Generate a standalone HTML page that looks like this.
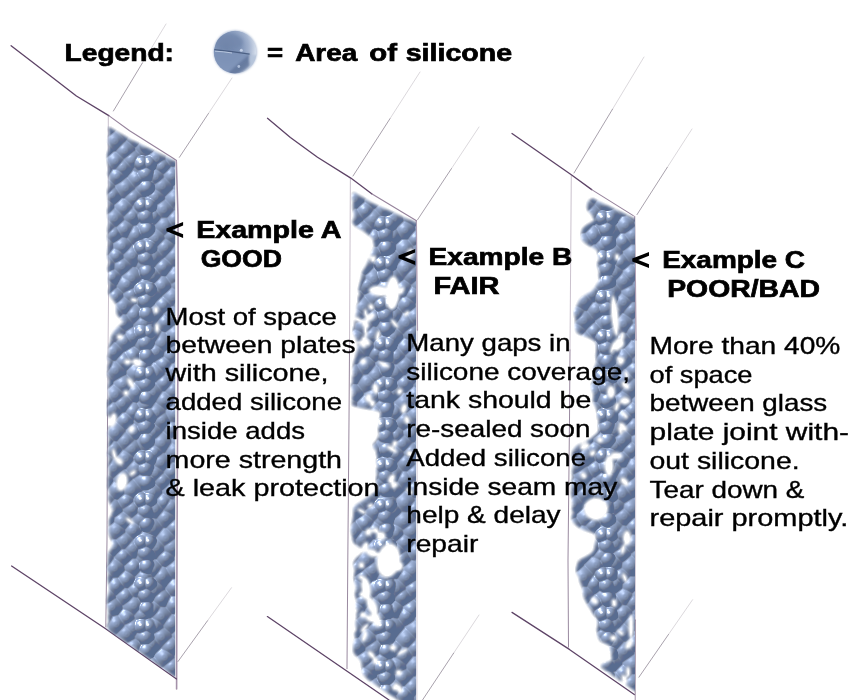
<!DOCTYPE html>
<html lang="en"><head><meta charset="utf-8"><title>Silicone seam examples</title>
<style>
html,body{margin:0;padding:0;background:#fff;}
body{width:864px;height:700px;overflow:hidden;font-family:"Liberation Sans",sans-serif;}
svg{display:block}
text{font-family:"Liberation Sans",sans-serif;fill:#000}
.b{font-weight:bold;stroke:#000;stroke-width:0.7px}
.r{stroke:#000;stroke-width:0.35px}
</style></head><body>
<svg width="864" height="700" viewBox="0 0 864 700">
<defs>
<radialGradient id="g" cx="0.5" cy="0.5" r="0.5" fx="0.40" fy="0.36">
<stop offset="0" stop-color="#a9bad6"/><stop offset="0.28" stop-color="#879cbe"/><stop offset="0.6" stop-color="#6c81a6"/><stop offset="0.88" stop-color="#54688b"/><stop offset="1" stop-color="#52668a" stop-opacity="0"/>
</radialGradient>
<radialGradient id="gb" cx="0.5" cy="0.5" r="0.5" fx="0.40" fy="0.30">
<stop offset="0" stop-color="#f6f9fd"/><stop offset="0.14" stop-color="#c6d3e7"/><stop offset="0.45" stop-color="#98abca"/><stop offset="0.8" stop-color="#7086ab"/><stop offset="1" stop-color="#586c8f"/>
</radialGradient>
<radialGradient id="gc" cx="0.5" cy="0.5" r="0.5" fx="0.40" fy="0.32">
<stop offset="0" stop-color="#b9c8df"/><stop offset="0.4" stop-color="#8fa3c4"/><stop offset="0.8" stop-color="#6b81a6"/><stop offset="1" stop-color="#566a8d"/>
</radialGradient>
<radialGradient id="gl" gradientUnits="userSpaceOnUse" cx="228" cy="48" r="30" fx="226" fy="46">
<stop offset="0" stop-color="#7085aa"/><stop offset="0.45" stop-color="#7c91b5"/><stop offset="0.72" stop-color="#a2b2ce"/><stop offset="1" stop-color="#e2e9f3"/>
</radialGradient>
<clipPath id="ballc"><circle cx="235.2" cy="52" r="21.4"/></clipPath>
<filter id="bb" x="-20%" y="-20%" width="140%" height="140%"><feGaussianBlur stdDeviation="1.1"/></filter>
<radialGradient id="h" cx="0.5" cy="0.5" r="0.5">
<stop offset="0" stop-color="#b0b0b0"/><stop offset="0.25" stop-color="#a0a0a0"/><stop offset="0.7" stop-color="#4a4a4a"/><stop offset="1" stop-color="#000"/>
</radialGradient>
<radialGradient id="hb" cx="0.5" cy="0.5" r="0.5">
<stop offset="0" stop-color="#fff"/><stop offset="0.3" stop-color="#f4f4f4"/><stop offset="0.6" stop-color="#d0d0d0"/><stop offset="0.85" stop-color="#a0a0a0"/><stop offset="1" stop-color="#6a6a6a"/>
</radialGradient>
<circle id="k1" r="11" fill="url(#h)" style="mix-blend-mode:lighten"/>
<circle id="k2" r="12" fill="url(#h)" style="mix-blend-mode:lighten"/>
<circle id="k3" r="13" fill="url(#h)" style="mix-blend-mode:lighten"/>
<circle id="kb" r="7.6" fill="url(#hb)" style="mix-blend-mode:lighten"/>
<circle id="kc" r="8.2" fill="url(#hb)" style="mix-blend-mode:lighten"/>
<circle id="kd" r="7.6" fill="url(#hb)" style="mix-blend-mode:lighten"/>
<filter id="lit" x="0" y="0" width="1" height="1" color-interpolation-filters="sRGB">
<feColorMatrix in="SourceGraphic" type="matrix" values="0 0 0 0 0  0 0 0 0 0  0 0 0 0 0  1 0 0 0 0" result="hm"/>
<feGaussianBlur in="hm" stdDeviation="0.7" result="hb"/>
<feDiffuseLighting in="hb" surfaceScale="3.5" diffuseConstant="1.16" lighting-color="#8b9dbf" result="dif"><feDistantLight azimuth="230" elevation="52"/></feDiffuseLighting>
<feSpecularLighting in="hb" surfaceScale="2.7" specularConstant="0.5" specularExponent="95" lighting-color="#ffffff" result="spec"><feDistantLight azimuth="235" elevation="36"/></feSpecularLighting>
<feFlood flood-color="#586c90" result="amb"/><feBlend in="dif" in2="amb" mode="lighten" result="dif2"/>
<feComposite in="dif2" in2="spec" operator="arithmetic" k1="0" k2="1" k3="1" k4="0"/>
</filter>
<filter id="soft" x="-10%" y="-5%" width="120%" height="110%"><feGaussianBlur stdDeviation="2.2"/></filter>
<filter id="s1" x="-5%" y="-5%" width="110%" height="110%"><feGaussianBlur stdDeviation="0.55"/></filter>
<circle id="c1" r="7.2" fill="url(#g)" style="mix-blend-mode:lighten"/>
<circle id="c2" r="8.0" fill="url(#g)" style="mix-blend-mode:lighten"/>
<circle id="c3" r="8.8" fill="url(#g)" style="mix-blend-mode:lighten"/>
<circle id="cb" r="6.6" fill="url(#gb)"/>
<circle id="cc" r="7" fill="url(#gc)"/>
<circle id="cd" r="6.4" fill="url(#gc)"/>

<clipPath id="cpA"><polygon points="90.2,0 175.2,0 175.2,677.6 90.2,618.0"/></clipPath>
<clipPath id="cpB"><polygon points="331.1,0 416.1,0 416.1,718.1 331.1,659.8"/></clipPath>
<clipPath id="cpC"><polygon points="550.0,0 635.0,0 635.0,694.6 550.0,636.4"/></clipPath>
<filter id="mb" x="-5%" y="-2%" width="110%" height="104%"><feGaussianBlur stdDeviation="1.15"/></filter>
<mask id="mA" maskUnits="userSpaceOnUse" x="85.19999999999999" y="100" width="110" height="600">
<g filter="url(#mb)"><rect x="85.19999999999999" y="100" width="110" height="600" fill="#000"/>
<path d="M181.2 110 L108.0 110.0 Q108.0 110.0 108.3 112.0 Q108.6 114.0 108.8 116.0 Q108.9 118.0 108.8 120.0 Q108.7 122.0 108.6 124.0 Q108.4 126.0 108.9 128.0 Q109.4 130.0 109.7 132.0 Q110.0 134.0 109.4 136.0 Q108.9 138.0 108.7 140.0 Q108.5 142.0 109.0 144.0 Q109.6 146.0 109.6 148.0 Q109.6 150.0 108.6 152.0 Q107.6 154.0 107.7 156.0 Q107.7 158.0 107.9 160.0 Q108.0 162.0 108.4 164.0 Q108.7 166.0 109.1 168.0 Q109.5 170.0 108.8 172.0 Q108.1 174.0 109.1 176.0 Q110.0 178.0 109.5 180.0 Q109.0 182.0 109.5 184.0 Q110.0 186.0 108.9 188.0 Q107.8 190.0 108.1 192.0 Q108.3 194.0 108.5 196.0 Q108.7 198.0 108.7 200.0 Q108.7 202.0 109.1 204.0 Q109.5 206.0 108.7 208.0 Q107.9 210.0 108.2 212.0 Q108.5 214.0 108.5 216.0 Q108.5 218.0 109.0 220.0 Q109.6 222.0 109.1 224.0 Q108.6 226.0 108.4 228.0 Q108.1 230.0 108.5 232.0 Q108.9 234.0 108.3 236.0 Q107.8 238.0 108.6 240.0 Q109.4 242.0 109.1 244.0 Q108.8 246.0 108.7 248.0 Q108.5 250.0 108.4 252.0 Q108.2 254.0 108.2 256.0 Q108.1 258.0 109.1 260.0 Q110.1 262.0 109.4 264.0 Q108.6 266.0 108.4 268.0 Q108.3 270.0 109.1 272.0 Q110.0 274.0 109.5 276.0 Q108.9 278.0 109.0 280.0 Q109.1 282.0 109.7 284.0 Q110.2 286.0 109.8 288.0 Q109.3 290.0 109.2 292.0 Q109.1 294.0 110.8 296.0 Q112.4 298.0 114.0 300.0 Q115.6 302.0 116.5 304.0 Q117.4 306.0 117.1 308.0 Q116.8 310.0 116.9 312.0 Q117.0 314.0 119.1 316.0 Q121.3 318.0 122.9 320.0 Q124.4 322.0 122.3 324.0 Q120.1 326.0 118.0 328.0 Q115.9 330.0 114.6 332.0 Q113.3 334.0 112.2 336.0 Q111.1 338.0 111.4 340.0 Q111.7 342.0 110.6 344.0 Q109.5 346.0 109.6 348.0 Q109.7 350.0 109.4 352.0 Q109.1 354.0 108.5 356.0 Q107.9 358.0 108.9 360.0 Q109.9 362.0 109.1 364.0 Q108.2 366.0 108.6 368.0 Q108.9 370.0 108.3 372.0 Q107.7 374.0 108.4 376.0 Q109.2 378.0 109.5 380.0 Q109.8 382.0 109.4 384.0 Q108.9 386.0 108.9 388.0 Q108.8 390.0 109.1 392.0 Q109.4 394.0 109.3 396.0 Q109.2 398.0 108.5 400.0 Q107.9 402.0 108.1 404.0 Q108.3 406.0 108.1 408.0 Q107.9 410.0 107.9 412.0 Q107.8 414.0 108.8 416.0 Q109.8 418.0 109.7 420.0 Q109.6 422.0 109.7 424.0 Q109.9 426.0 109.5 428.0 Q109.2 430.0 108.7 432.0 Q108.1 434.0 108.9 436.0 Q109.6 438.0 109.4 440.0 Q109.2 442.0 109.2 444.0 Q109.2 446.0 109.2 448.0 Q109.2 450.0 108.5 452.0 Q107.8 454.0 108.7 456.0 Q109.6 458.0 109.3 460.0 Q109.1 462.0 109.1 464.0 Q109.0 466.0 109.1 468.0 Q109.3 470.0 109.6 472.0 Q110.0 474.0 109.0 476.0 Q108.0 478.0 108.4 480.0 Q108.7 482.0 108.5 484.0 Q108.2 486.0 108.7 488.0 Q109.2 490.0 109.6 492.0 Q110.0 494.0 109.2 496.0 Q108.3 498.0 109.3 500.0 Q110.3 502.0 111.0 504.0 Q111.8 506.0 112.9 508.0 Q113.9 510.0 113.3 512.0 Q112.7 514.0 111.5 516.0 Q110.3 518.0 109.9 520.0 Q109.6 522.0 109.8 524.0 Q110.0 526.0 109.6 528.0 Q109.1 530.0 109.4 532.0 Q109.7 534.0 110.4 536.0 Q111.0 538.0 112.3 540.0 Q113.6 542.0 113.7 544.0 Q113.8 546.0 112.4 548.0 Q111.1 550.0 109.8 552.0 Q108.5 554.0 108.7 556.0 Q109.0 558.0 108.9 560.0 Q108.9 562.0 108.6 564.0 Q108.2 566.0 108.0 568.0 Q107.8 570.0 108.7 572.0 Q109.6 574.0 108.8 576.0 Q108.1 578.0 108.6 580.0 Q109.2 582.0 109.5 584.0 Q109.9 586.0 109.9 588.0 Q109.9 590.0 109.6 592.0 Q109.2 594.0 108.4 596.0 Q107.5 598.0 107.6 600.0 Q107.7 602.0 107.8 604.0 Q107.8 606.0 108.5 608.0 Q109.2 610.0 109.1 612.0 Q109.1 614.0 109.0 616.0 Q108.9 618.0 109.3 620.0 Q109.7 622.0 108.7 624.0 Q107.7 626.0 108.5 628.0 Q109.3 630.0 108.6 632.0 Q107.9 634.0 108.8 636.0 Q109.8 638.0 108.8 640.0 Q107.9 642.0 108.3 644.0 Q108.7 646.0 108.7 648.0 Q108.7 650.0 109.1 652.0 Q109.5 654.0 109.1 656.0 Q108.6 658.0 108.4 660.0 Q108.1 662.0 108.9 664.0 Q109.6 666.0 109.5 668.0 Q109.4 670.0 109.0 672.0 Q108.6 674.0 109.0 676.0 Q109.4 678.0 109.2 680.0 Q109.1 682.0 108.4 684.0 Q107.7 686.0 108.4 688.0 L109.0 690.0 L181.2 690 Z" fill="#fff"/>
<ellipse cx="122" cy="482" rx="6.4" ry="9.9" transform="rotate(11 122 482)" fill="#000"/>
<ellipse cx="137" cy="362.5" rx="5.9" ry="4.5" transform="rotate(29 137 362.5)" fill="#000"/>
<ellipse cx="127.5" cy="362" rx="3.9" ry="3.4" transform="rotate(0 127.5 362)" fill="#000"/>
<ellipse cx="126" cy="393" rx="3.4" ry="3.4" transform="rotate(0 126 393)" fill="#000"/>
<ellipse cx="156" cy="310" rx="3.1" ry="4.1" transform="rotate(0 156 310)" fill="#000"/>
<ellipse cx="157" cy="328" rx="3.1" ry="5.4" transform="rotate(0 157 328)" fill="#000"/>
<ellipse cx="134" cy="300" rx="4.1" ry="2.9" transform="rotate(11 134 300)" fill="#000"/>
<ellipse cx="120" cy="337" rx="3.9" ry="3.4" transform="rotate(0 120 337)" fill="#000"/>
<ellipse cx="113" cy="420" rx="4.4" ry="7.9" transform="rotate(11 113 420)" fill="#000"/>
<ellipse cx="130.8" cy="383.1" rx="3.5" ry="6.2" transform="rotate(-31 130.8 383.1)" fill="#000"/>
<ellipse cx="131.6" cy="429.3" rx="3.6" ry="4.3" transform="rotate(25 131.6 429.3)" fill="#000"/>
<ellipse cx="132.8" cy="473.0" rx="2.7" ry="4.1" transform="rotate(55 132.8 473.0)" fill="#000"/>
<ellipse cx="119.0" cy="461.0" rx="3.8" ry="5.3" transform="rotate(-48 119.0 461.0)" fill="#000"/>
<ellipse cx="129.8" cy="520.9" rx="2.8" ry="5.4" transform="rotate(-52 129.8 520.9)" fill="#000"/>
<ellipse cx="114.3" cy="454.5" rx="2.8" ry="6.3" transform="rotate(-13 114.3 454.5)" fill="#000"/>
<polygon points="97.7,119.6 103.3,123.6 108.8,127.6 114.3,130.8 119.9,134.1 125.4,137.3 130.9,140.4 136.5,143.1 142.0,145.8 147.5,148.5 153.1,151.2 158.6,153.9 164.1,156.6 169.7,159.3 175.2,162.1 180.7,165.9 186.3,169.7 185.2,90 85.19999999999999,90" fill="#000"/>
<polygon points="85.19999999999999,613.7 135.2,648.3 185.2,683.7 185.2,710 85.19999999999999,710" fill="#000"/>
</g></mask>
<mask id="mB" maskUnits="userSpaceOnUse" x="326.1" y="160" width="110" height="554">
<g filter="url(#mb)"><rect x="326.1" y="160" width="110" height="554" fill="#000"/>
<path d="M422.1 170 L354.8 170.0 Q354.8 170.0 354.3 172.0 Q353.7 174.0 353.9 176.0 Q354.2 178.0 354.5 180.0 Q354.9 182.0 354.4 184.0 Q353.9 186.0 354.8 188.0 Q355.6 190.0 354.5 192.0 Q353.4 194.0 353.1 196.0 Q352.8 198.0 353.4 200.0 Q353.9 202.0 353.6 204.0 Q353.4 206.0 353.6 208.0 Q353.8 210.0 354.4 212.0 Q354.9 214.0 354.8 216.0 Q354.7 218.0 353.7 220.0 Q352.7 222.0 354.2 224.0 Q355.7 226.0 359.6 228.0 Q363.5 230.0 366.0 232.0 Q368.4 234.0 371.1 236.0 Q373.8 238.0 374.0 240.0 Q374.1 242.0 374.7 244.0 Q375.3 246.0 374.5 248.0 Q373.7 250.0 373.0 252.0 Q372.4 254.0 371.1 256.0 Q369.9 258.0 369.2 260.0 Q368.5 262.0 367.6 264.0 Q366.7 266.0 365.4 268.0 Q364.0 270.0 363.2 272.0 Q362.4 274.0 362.2 276.0 Q361.9 278.0 361.4 280.0 Q360.9 282.0 360.5 284.0 Q360.1 286.0 359.5 288.0 Q359.0 290.0 359.7 292.0 Q360.5 294.0 359.5 296.0 Q358.5 298.0 358.9 300.0 Q359.4 302.0 358.5 304.0 Q357.5 306.0 357.5 308.0 Q357.6 310.0 357.4 312.0 Q357.2 314.0 356.2 316.0 Q355.3 318.0 355.3 320.0 Q355.3 322.0 355.4 324.0 Q355.5 326.0 354.4 328.0 Q353.4 330.0 354.0 332.0 Q354.5 334.0 355.6 336.0 Q356.7 338.0 357.3 340.0 Q358.0 342.0 358.4 344.0 Q358.8 346.0 358.6 348.0 Q358.4 350.0 357.4 352.0 Q356.3 354.0 356.2 356.0 Q356.0 358.0 355.3 360.0 Q354.5 362.0 354.1 364.0 Q353.7 366.0 353.7 368.0 Q353.8 370.0 354.0 372.0 Q354.2 374.0 353.5 376.0 Q352.9 378.0 353.2 380.0 Q353.5 382.0 352.5 384.0 Q351.5 386.0 352.5 388.0 Q353.4 390.0 353.4 392.0 Q353.4 394.0 353.2 396.0 Q353.0 398.0 352.8 400.0 Q352.6 402.0 352.7 404.0 Q352.8 406.0 366.5 408.0 Q380.2 410.0 380.9 412.0 Q381.6 414.0 381.1 416.0 Q380.5 418.0 380.5 420.0 Q380.4 422.0 380.1 424.0 Q379.9 426.0 379.2 428.0 Q378.6 430.0 379.4 432.0 Q380.2 434.0 379.4 436.0 Q378.7 438.0 377.6 440.0 Q376.4 442.0 374.6 444.0 Q372.9 446.0 374.8 448.0 Q376.8 450.0 377.0 452.0 Q377.2 454.0 377.8 456.0 Q378.3 458.0 377.6 460.0 Q377.0 462.0 377.9 464.0 Q378.7 466.0 377.7 468.0 Q376.7 470.0 377.2 472.0 Q377.6 474.0 377.4 476.0 Q377.1 478.0 377.0 480.0 Q376.8 482.0 377.4 484.0 Q377.9 486.0 378.4 488.0 Q378.9 490.0 376.5 492.0 Q374.2 494.0 370.6 496.0 Q367.0 498.0 364.7 500.0 Q362.4 502.0 358.7 504.0 Q355.0 506.0 354.4 508.0 Q353.9 510.0 354.1 512.0 Q354.3 514.0 353.9 516.0 Q353.5 518.0 353.3 520.0 Q353.1 522.0 352.6 524.0 Q352.0 526.0 351.8 528.0 Q351.5 530.0 351.9 532.0 Q352.4 534.0 352.8 536.0 Q353.2 538.0 353.4 540.0 Q353.6 542.0 356.1 544.0 Q358.6 546.0 362.3 548.0 Q366.1 550.0 364.4 552.0 Q362.7 554.0 360.1 556.0 Q357.4 558.0 355.8 560.0 Q354.2 562.0 354.3 564.0 Q354.3 566.0 355.0 568.0 Q355.7 570.0 355.4 572.0 Q355.0 574.0 354.8 576.0 Q354.6 578.0 354.9 580.0 Q355.1 582.0 356.0 584.0 Q356.8 586.0 356.8 588.0 Q356.8 590.0 356.0 592.0 Q355.3 594.0 356.0 596.0 Q356.8 598.0 357.2 600.0 Q357.6 602.0 356.9 604.0 Q356.1 606.0 357.3 608.0 Q358.5 610.0 357.8 612.0 Q357.1 614.0 357.4 616.0 Q357.8 618.0 357.0 620.0 Q356.2 622.0 356.3 624.0 Q356.4 626.0 357.0 628.0 Q357.7 630.0 356.2 632.0 Q354.8 634.0 355.6 636.0 Q356.5 638.0 355.6 640.0 Q354.7 642.0 354.4 644.0 Q354.1 646.0 353.9 648.0 Q353.6 650.0 354.2 652.0 Q354.7 654.0 357.5 656.0 Q360.2 658.0 361.1 660.0 Q361.9 662.0 362.2 664.0 Q362.5 666.0 362.8 668.0 Q363.1 670.0 363.3 672.0 Q363.6 674.0 365.6 676.0 Q367.5 678.0 369.3 680.0 Q371.0 682.0 374.8 684.0 Q378.7 686.0 381.5 688.0 Q384.2 690.0 386.8 692.0 Q389.3 694.0 393.1 696.0 Q396.9 698.0 398.7 700.0 L400.6 702.0 L422.1 704 Z" fill="#fff"/>
<ellipse cx="392.5" cy="293" rx="7.9" ry="17.4" transform="rotate(3 392.5 293)" fill="#000"/>
<ellipse cx="379" cy="291" rx="10.9" ry="5.9" transform="rotate(6 379 291)" fill="#000"/>
<ellipse cx="394.5" cy="323.5" rx="5.9" ry="2.7" transform="rotate(52 394.5 323.5)" fill="#000"/>
<ellipse cx="384" cy="364.5" rx="6.4" ry="2.7" transform="rotate(26 384 364.5)" fill="#000"/>
<ellipse cx="388.5" cy="560.5" rx="12.4" ry="17.9" transform="rotate(9 388.5 560.5)" fill="#000"/>
<ellipse cx="381" cy="536" rx="5.4" ry="4.9" transform="rotate(0 381 536)" fill="#000"/>
<ellipse cx="372" cy="553" rx="6.9" ry="4.4" transform="rotate(17 372 553)" fill="#000"/>
<ellipse cx="398" cy="566" rx="5.9" ry="5.9" transform="rotate(0 398 566)" fill="#000"/>
<ellipse cx="366" cy="588" rx="5.4" ry="11.9" transform="rotate(-9 366 588)" fill="#000"/>
<ellipse cx="372" cy="606" rx="5.4" ry="10.9" transform="rotate(-23 372 606)" fill="#000"/>
<ellipse cx="376" cy="619" rx="5.1" ry="8.9" transform="rotate(-20 376 619)" fill="#000"/>
<ellipse cx="375.5" cy="661" rx="3.5" ry="4.1" transform="rotate(0 375.5 661)" fill="#000"/>
<ellipse cx="398.8" cy="672.8" rx="3.7" ry="3.7" transform="rotate(0 398.8 672.8)" fill="#000"/>
<ellipse cx="371.4" cy="654.8" rx="3.3" ry="5.2" transform="rotate(-43 371.4 654.8)" fill="#000"/>
<ellipse cx="362.0" cy="593.7" rx="3.0" ry="3.7" transform="rotate(43 362.0 593.7)" fill="#000"/>
<ellipse cx="365.0" cy="547.4" rx="4.1" ry="6.3" transform="rotate(21 365.0 547.4)" fill="#000"/>
<ellipse cx="361.8" cy="511.2" rx="2.5" ry="5.0" transform="rotate(-61 361.8 511.2)" fill="#000"/>
<ellipse cx="365.7" cy="313.4" rx="2.5" ry="4.8" transform="rotate(-8 365.7 313.4)" fill="#000"/>
<ellipse cx="374.4" cy="616.7" rx="3.5" ry="4.9" transform="rotate(22 374.4 616.7)" fill="#000"/>
<ellipse cx="399.1" cy="688.9" rx="3.8" ry="5.5" transform="rotate(-25 399.1 688.9)" fill="#000"/>
<ellipse cx="365.6" cy="331.8" rx="2.6" ry="5.7" transform="rotate(-14 365.6 331.8)" fill="#000"/>
<ellipse cx="370.7" cy="618.7" rx="4.0" ry="5.9" transform="rotate(-69 370.7 618.7)" fill="#000"/>
<ellipse cx="394.8" cy="443.5" rx="3.1" ry="3.6" transform="rotate(18 394.8 443.5)" fill="#000"/>
<ellipse cx="366.3" cy="587.0" rx="2.6" ry="4.4" transform="rotate(64 366.3 587.0)" fill="#000"/>
<ellipse cx="361.7" cy="577.5" rx="2.9" ry="3.7" transform="rotate(-61 361.7 577.5)" fill="#000"/>
<ellipse cx="364.3" cy="595.6" rx="3.4" ry="4.7" transform="rotate(-43 364.3 595.6)" fill="#000"/>
<ellipse cx="361.4" cy="565.3" rx="3.5" ry="3.7" transform="rotate(-11 361.4 565.3)" fill="#000"/>
<ellipse cx="365.4" cy="324.0" rx="4.1" ry="5.8" transform="rotate(-27 365.4 324.0)" fill="#000"/>
<ellipse cx="364.6" cy="636.5" rx="3.1" ry="6.0" transform="rotate(20 364.6 636.5)" fill="#000"/>
<ellipse cx="365.0" cy="324.2" rx="3.7" ry="4.4" transform="rotate(-28 365.0 324.2)" fill="#000"/>
<ellipse cx="373.2" cy="259.1" rx="3.4" ry="4.1" transform="rotate(14 373.2 259.1)" fill="#000"/>
<ellipse cx="368.4" cy="397.8" rx="4.0" ry="4.9" transform="rotate(10 368.4 397.8)" fill="#000"/>
<ellipse cx="364.6" cy="627.9" rx="2.7" ry="6.1" transform="rotate(44 364.6 627.9)" fill="#000"/>
<ellipse cx="365.8" cy="341.0" rx="3.7" ry="6.2" transform="rotate(-42 365.8 341.0)" fill="#000"/>
<ellipse cx="370.3" cy="505.6" rx="2.7" ry="3.5" transform="rotate(64 370.3 505.6)" fill="#000"/>
<ellipse cx="377.8" cy="335.9" rx="2.9" ry="5.9" transform="rotate(13 377.8 335.9)" fill="#000"/>
<ellipse cx="363.3" cy="361.4" rx="3.7" ry="3.6" transform="rotate(-37 363.3 361.4)" fill="#000"/>
<ellipse cx="394.3" cy="485.1" rx="3.5" ry="4.2" transform="rotate(57 394.3 485.1)" fill="#000"/>
<ellipse cx="358.6" cy="319.9" rx="2.9" ry="4.7" transform="rotate(-60 358.6 319.9)" fill="#000"/>
<ellipse cx="371.1" cy="307.0" rx="3.4" ry="3.8" transform="rotate(-19 371.1 307.0)" fill="#000"/>
<ellipse cx="375.6" cy="530.5" rx="3.4" ry="3.8" transform="rotate(-64 375.6 530.5)" fill="#000"/>
<ellipse cx="391.9" cy="449.2" rx="3.0" ry="6.4" transform="rotate(-58 391.9 449.2)" fill="#000"/>
<ellipse cx="391.5" cy="478.9" rx="3.9" ry="5.6" transform="rotate(28 391.5 478.9)" fill="#000"/>
<ellipse cx="375.4" cy="388.6" rx="3.9" ry="6.0" transform="rotate(-11 375.4 388.6)" fill="#000"/>
<ellipse cx="372.3" cy="402.8" rx="3.5" ry="3.6" transform="rotate(19 372.3 402.8)" fill="#000"/>
<ellipse cx="395.5" cy="686.9" rx="3.7" ry="4.6" transform="rotate(32 395.5 686.9)" fill="#000"/>
<ellipse cx="362.9" cy="614.8" rx="3.7" ry="3.5" transform="rotate(14 362.9 614.8)" fill="#000"/>
<ellipse cx="362.3" cy="344.0" rx="3.0" ry="5.4" transform="rotate(-41 362.3 344.0)" fill="#000"/>
<ellipse cx="368.5" cy="531.9" rx="3.9" ry="4.4" transform="rotate(23 368.5 531.9)" fill="#000"/>
<ellipse cx="370.1" cy="317.3" rx="3.8" ry="6.1" transform="rotate(52 370.1 317.3)" fill="#000"/>
<ellipse cx="372.4" cy="403.8" rx="3.0" ry="3.8" transform="rotate(-0 372.4 403.8)" fill="#000"/>
<ellipse cx="409.7" cy="453.6" rx="3.6" ry="3.8" transform="rotate(-67 409.7 453.6)" fill="#000"/>
<ellipse cx="404.0" cy="408.6" rx="3.8" ry="5.5" transform="rotate(14 404.0 408.6)" fill="#000"/>
<ellipse cx="409.5" cy="491.2" rx="2.7" ry="4.7" transform="rotate(-46 409.5 491.2)" fill="#000"/>
<ellipse cx="392.9" cy="647.7" rx="3.8" ry="3.6" transform="rotate(26 392.9 647.7)" fill="#000"/>
<ellipse cx="399.7" cy="391.6" rx="3.8" ry="3.5" transform="rotate(-60 399.7 391.6)" fill="#000"/>
<ellipse cx="402.5" cy="651.8" rx="2.6" ry="6.4" transform="rotate(61 402.5 651.8)" fill="#000"/>
<ellipse cx="401.9" cy="290.6" rx="2.7" ry="4.3" transform="rotate(17 401.9 290.6)" fill="#000"/>
<ellipse cx="406.7" cy="313.6" rx="2.6" ry="3.9" transform="rotate(43 406.7 313.6)" fill="#000"/>
<ellipse cx="407.0" cy="420.2" rx="3.5" ry="4.8" transform="rotate(-16 407.0 420.2)" fill="#000"/>
<ellipse cx="409.6" cy="253.7" rx="4.0" ry="6.3" transform="rotate(22 409.6 253.7)" fill="#000"/>
<polygon points="339.9,183.0 345.4,187.0 350.8,191.1 356.2,194.3 361.7,197.6 367.1,200.8 372.6,203.9 378.0,206.4 383.5,208.8 388.9,211.3 394.3,213.7 399.8,216.2 405.2,218.7 410.7,221.1 416.1,223.6 421.5,226.8 427.0,230.1 426.1,150 326.1,150" fill="#000"/>
<polygon points="326.1,649.9 376.1,684.2 426.1,718.4 426.1,724 326.1,724" fill="#000"/>
</g></mask>
<mask id="mC" maskUnits="userSpaceOnUse" x="545.0" y="175" width="110" height="539">
<g filter="url(#mb)"><rect x="545.0" y="175" width="110" height="539" fill="#000"/>
<path d="M641.0 185 L599.8 185.0 Q599.8 185.0 600.1 187.0 Q600.4 189.0 599.7 191.0 Q599.1 193.0 597.6 195.0 Q596.1 197.0 592.4 199.0 Q588.8 201.0 588.2 203.0 Q587.6 205.0 587.5 207.0 Q587.4 209.0 589.4 211.0 Q591.5 213.0 592.6 215.0 Q593.7 217.0 594.7 219.0 Q595.8 221.0 591.7 223.0 Q587.7 225.0 585.3 227.0 Q582.9 229.0 582.5 231.0 Q582.1 233.0 581.9 235.0 Q581.7 237.0 582.5 239.0 Q583.4 241.0 586.2 243.0 Q589.0 245.0 593.3 247.0 Q597.6 249.0 597.9 251.0 Q598.2 253.0 599.1 255.0 Q599.9 257.0 599.6 259.0 Q599.2 261.0 598.3 263.0 Q597.4 265.0 598.5 267.0 Q599.6 269.0 599.6 271.0 Q599.7 273.0 599.6 275.0 Q599.5 277.0 600.0 279.0 Q600.6 281.0 598.8 283.0 Q597.1 285.0 596.2 287.0 Q595.3 289.0 592.9 291.0 Q590.5 293.0 587.0 295.0 Q583.5 297.0 581.4 299.0 Q579.3 301.0 578.7 303.0 Q578.0 305.0 576.8 307.0 Q575.6 309.0 575.1 311.0 Q574.6 313.0 575.2 315.0 Q575.8 317.0 576.1 319.0 Q576.3 321.0 576.0 323.0 Q575.7 325.0 576.0 327.0 Q576.3 329.0 576.8 331.0 Q577.4 333.0 583.5 335.0 Q589.6 337.0 592.9 339.0 Q596.2 341.0 596.6 343.0 Q597.0 345.0 597.0 347.0 Q597.1 349.0 597.0 351.0 Q596.9 353.0 596.7 355.0 Q596.5 357.0 596.9 359.0 Q597.2 361.0 596.8 363.0 Q596.4 365.0 595.3 367.0 Q594.1 369.0 594.8 371.0 Q595.5 373.0 594.5 375.0 Q593.5 377.0 593.9 379.0 Q594.4 381.0 593.0 383.0 Q591.6 385.0 592.0 387.0 Q592.4 389.0 593.2 391.0 Q593.9 393.0 594.2 395.0 Q594.4 397.0 593.9 399.0 Q593.4 401.0 594.4 403.0 Q595.4 405.0 596.3 407.0 Q597.2 409.0 597.6 411.0 Q598.0 413.0 598.0 415.0 Q597.9 417.0 598.8 419.0 Q599.8 421.0 599.2 423.0 Q598.7 425.0 599.2 427.0 Q599.6 429.0 599.2 431.0 Q598.8 433.0 596.3 435.0 Q593.7 437.0 591.5 439.0 Q589.4 441.0 583.9 443.0 Q578.4 445.0 576.5 447.0 Q574.6 449.0 573.5 451.0 Q572.3 453.0 572.5 455.0 Q572.8 457.0 573.3 459.0 Q573.9 461.0 574.1 463.0 Q574.2 465.0 573.7 467.0 Q573.2 469.0 572.8 471.0 Q572.4 473.0 573.1 475.0 Q573.7 477.0 573.0 479.0 Q572.4 481.0 572.4 483.0 Q572.4 485.0 572.3 487.0 Q572.2 489.0 572.0 491.0 Q571.8 493.0 572.2 495.0 Q572.6 497.0 572.9 499.0 Q573.1 501.0 573.4 503.0 Q573.6 505.0 573.0 507.0 Q572.4 509.0 573.2 511.0 Q574.1 513.0 573.1 515.0 Q572.2 517.0 572.5 519.0 Q572.8 521.0 574.8 523.0 Q576.8 525.0 579.6 527.0 Q582.3 529.0 589.3 531.0 Q596.3 533.0 596.5 535.0 Q596.8 537.0 596.8 539.0 Q596.7 541.0 595.9 543.0 Q595.1 545.0 595.0 547.0 Q594.9 549.0 594.1 551.0 Q593.3 553.0 590.3 555.0 Q587.3 557.0 583.0 559.0 Q578.7 561.0 578.4 563.0 Q578.0 565.0 577.4 567.0 Q576.7 569.0 577.0 571.0 Q577.2 573.0 578.6 575.0 Q580.0 577.0 580.0 579.0 Q580.0 581.0 581.1 583.0 Q582.2 585.0 582.9 587.0 Q583.6 589.0 583.6 591.0 Q583.7 593.0 584.0 595.0 Q584.4 597.0 585.5 599.0 Q586.7 601.0 587.4 603.0 Q588.2 605.0 589.9 607.0 Q591.5 609.0 592.4 611.0 Q593.3 613.0 595.1 615.0 Q596.9 617.0 597.6 619.0 Q598.3 621.0 598.3 623.0 Q598.4 625.0 597.9 627.0 Q597.4 629.0 597.7 631.0 Q598.0 633.0 598.3 635.0 Q598.6 637.0 599.8 639.0 Q600.9 641.0 606.0 643.0 Q611.1 645.0 610.9 647.0 Q610.7 649.0 611.4 651.0 Q612.0 653.0 612.2 655.0 Q612.4 657.0 612.6 659.0 Q612.8 661.0 606.8 663.0 Q600.8 665.0 602.1 667.0 Q603.3 669.0 605.3 671.0 Q607.4 673.0 609.5 675.0 Q611.5 677.0 613.7 679.0 Q615.8 681.0 617.2 683.0 Q618.6 685.0 622.5 687.0 Q626.5 689.0 629.2 691.0 Q632.0 693.0 633.5 695.0 Q635.0 697.0 635.3 699.0 L635.5 701.0 L641.0 704 Z" fill="#fff"/>
<ellipse cx="614.8" cy="316" rx="4.5" ry="20.9" transform="rotate(-5 614.8 316)" fill="#000"/>
<ellipse cx="617" cy="257" rx="2.9" ry="3.9" transform="rotate(0 617 257)" fill="#000"/>
<ellipse cx="619" cy="343.5" rx="5.9" ry="6.4" transform="rotate(29 619 343.5)" fill="#000"/>
<ellipse cx="611" cy="392" rx="4.9" ry="6.9" transform="rotate(0 611 392)" fill="#000"/>
<ellipse cx="625" cy="401" rx="5.9" ry="4.4" transform="rotate(0 625 401)" fill="#000"/>
<ellipse cx="609" cy="466" rx="5.4" ry="10.9" transform="rotate(0 609 466)" fill="#000"/>
<ellipse cx="616" cy="456" rx="6.9" ry="4.4" transform="rotate(0 616 456)" fill="#000"/>
<ellipse cx="596" cy="509" rx="12.9" ry="11.9" transform="rotate(0 596 509)" fill="#000"/>
<ellipse cx="627" cy="538" rx="4.9" ry="7.9" transform="rotate(0 627 538)" fill="#000"/>
<ellipse cx="631" cy="627" rx="3.4" ry="12.9" transform="rotate(0 631 627)" fill="#000"/>
<ellipse cx="623.0" cy="426.9" rx="3.6" ry="5.9" transform="rotate(-43 623.0 426.9)" fill="#000"/>
<ellipse cx="624.5" cy="414.9" rx="2.7" ry="5.0" transform="rotate(-39 624.5 414.9)" fill="#000"/>
<ellipse cx="620.4" cy="632.4" rx="2.5" ry="4.2" transform="rotate(-49 620.4 632.4)" fill="#000"/>
<ellipse cx="629.1" cy="644.3" rx="3.8" ry="5.9" transform="rotate(34 629.1 644.3)" fill="#000"/>
<ellipse cx="628.2" cy="672.0" rx="2.9" ry="5.9" transform="rotate(-2 628.2 672.0)" fill="#000"/>
<ellipse cx="614.1" cy="603.0" rx="3.2" ry="4.5" transform="rotate(-10 614.1 603.0)" fill="#000"/>
<ellipse cx="584.8" cy="446.4" rx="3.8" ry="5.8" transform="rotate(67 584.8 446.4)" fill="#000"/>
<ellipse cx="594.4" cy="600.7" rx="3.6" ry="4.7" transform="rotate(-44 594.4 600.7)" fill="#000"/>
<ellipse cx="616.7" cy="406.9" rx="2.9" ry="4.8" transform="rotate(15 616.7 406.9)" fill="#000"/>
<ellipse cx="583.6" cy="475.5" rx="3.3" ry="4.1" transform="rotate(-36 583.6 475.5)" fill="#000"/>
<ellipse cx="620.9" cy="361.0" rx="4.0" ry="4.6" transform="rotate(30 620.9 361.0)" fill="#000"/>
<ellipse cx="625.5" cy="385.3" rx="3.8" ry="5.3" transform="rotate(-47 625.5 385.3)" fill="#000"/>
<ellipse cx="624.6" cy="481.8" rx="3.9" ry="5.8" transform="rotate(-41 624.6 481.8)" fill="#000"/>
<ellipse cx="613.2" cy="638.0" rx="3.6" ry="3.8" transform="rotate(65 613.2 638.0)" fill="#000"/>
<ellipse cx="623.0" cy="549.2" rx="2.8" ry="5.3" transform="rotate(11 623.0 549.2)" fill="#000"/>
<ellipse cx="600.0" cy="439.8" rx="3.6" ry="3.7" transform="rotate(-38 600.0 439.8)" fill="#000"/>
<ellipse cx="620.6" cy="359.5" rx="3.4" ry="5.0" transform="rotate(-63 620.6 359.5)" fill="#000"/>
<ellipse cx="595.3" cy="491.1" rx="2.6" ry="3.4" transform="rotate(68 595.3 491.1)" fill="#000"/>
<ellipse cx="620.2" cy="430.5" rx="2.6" ry="4.8" transform="rotate(-18 620.2 430.5)" fill="#000"/>
<ellipse cx="624.5" cy="679.3" rx="3.3" ry="5.4" transform="rotate(-28 624.5 679.3)" fill="#000"/>
<ellipse cx="615.9" cy="346.3" rx="4.0" ry="5.6" transform="rotate(-33 615.9 346.3)" fill="#000"/>
<ellipse cx="624.7" cy="577.8" rx="2.9" ry="5.2" transform="rotate(-20 624.7 577.8)" fill="#000"/>
<ellipse cx="612.3" cy="348.5" rx="2.6" ry="5.7" transform="rotate(14 612.3 348.5)" fill="#000"/>
<ellipse cx="622.0" cy="336.5" rx="2.8" ry="4.8" transform="rotate(8 622.0 336.5)" fill="#000"/>
<ellipse cx="592.6" cy="453.2" rx="3.2" ry="3.8" transform="rotate(50 592.6 453.2)" fill="#000"/>
<ellipse cx="626.5" cy="374.7" rx="2.8" ry="4.3" transform="rotate(-15 626.5 374.7)" fill="#000"/>
<polygon points="560.7,179.1 566.0,182.9 571.3,186.8 576.6,189.9 581.9,193.0 587.2,196.1 592.5,199.1 597.8,201.7 603.1,204.3 608.5,206.8 613.8,209.4 619.1,212.0 624.4,214.5 629.7,217.1 635.0,219.7 640.3,223.0 645.6,226.3 645.0,165 545.0,165" fill="#000"/>
<polygon points="545.0,628.7 595.0,662.2 645.0,697.1 645.0,724 545.0,724" fill="#000"/>
</g></mask>
</defs>
<rect width="864" height="700" fill="#fff"/>
<polyline points="11.1,45.7 46.3,72.8 76.4,96 108.8,115.6" fill="none" stroke="#5d4366" stroke-width="1.3" stroke-linejoin="round" stroke-linecap="round" opacity="1"/>
<polyline points="108.8,115.6 129.6,130.7 173.6,158.5 176.5,160.5" fill="none" stroke="#7a6382" stroke-width="1.1" stroke-linejoin="round" stroke-linecap="round" opacity="0.8"/>
<polyline points="166,24 142.3,63.1" fill="none" stroke="#8b8490" stroke-width="0.7" stroke-linejoin="round" stroke-linecap="round" opacity="0.45"/>
<polyline points="142.3,63.1 113.4,111" fill="none" stroke="#6d6273" stroke-width="0.8" stroke-linejoin="round" stroke-linecap="round" opacity="0.75"/>
<polyline points="232,78 208.3,113.7" fill="none" stroke="#8b8490" stroke-width="0.7" stroke-linejoin="round" stroke-linecap="round" opacity="0.45"/>
<polyline points="208.3,113.7 179.4,157.3" fill="none" stroke="#6d6273" stroke-width="0.8" stroke-linejoin="round" stroke-linecap="round" opacity="0.75"/>
<polyline points="108.3,116 108.5,300 107.6,400" fill="none" stroke="#7a6382" stroke-width="0.8" stroke-linejoin="round" stroke-linecap="round" opacity="0.5"/>
<polyline points="107.6,400 107,540 105.8,627" fill="none" stroke="#5d4366" stroke-width="0.9" stroke-linejoin="round" stroke-linecap="round" opacity="0.7"/>
<polyline points="176.3,161.5 178,215 178.2,300 177,540 176.6,689" fill="none" stroke="#8d7593" stroke-width="1.6" stroke-linejoin="round" stroke-linecap="round" opacity="0.8"/>
<polyline points="11.6,566 105.6,628.8 176.5,679" fill="none" stroke="#5d4366" stroke-width="1.25" stroke-linejoin="round" stroke-linecap="round" opacity="1"/>
<polyline points="231.5,587.7 207.4,620.9" fill="none" stroke="#8b8490" stroke-width="0.7" stroke-linejoin="round" stroke-linecap="round" opacity="0.45"/>
<polyline points="207.4,620.9 178,661.5" fill="none" stroke="#6d6273" stroke-width="0.8" stroke-linejoin="round" stroke-linecap="round" opacity="0.75"/>
<polyline points="267.5,118.3 290.4,137.5 317.5,157.3 350.8,178.1 371.7,193.75" fill="none" stroke="#5d4366" stroke-width="1.3" stroke-linejoin="round" stroke-linecap="round" opacity="1"/>
<polyline points="371.7,193.75 416.5,220.8" fill="none" stroke="#7a6382" stroke-width="1.1" stroke-linejoin="round" stroke-linecap="round" opacity="0.8"/>
<polyline points="420,72 389.9,118.8" fill="none" stroke="#8b8490" stroke-width="0.7" stroke-linejoin="round" stroke-linecap="round" opacity="0.45"/>
<polyline points="389.9,118.8 353,176" fill="none" stroke="#6d6273" stroke-width="0.8" stroke-linejoin="round" stroke-linecap="round" opacity="0.75"/>
<polyline points="479,127 451.3,168.8" fill="none" stroke="#8b8490" stroke-width="0.7" stroke-linejoin="round" stroke-linecap="round" opacity="0.45"/>
<polyline points="451.3,168.8 417.5,219.8" fill="none" stroke="#6d6273" stroke-width="0.8" stroke-linejoin="round" stroke-linecap="round" opacity="0.75"/>
<polyline points="350.4,178 349.5,350" fill="none" stroke="#7a6382" stroke-width="0.8" stroke-linejoin="round" stroke-linecap="round" opacity="0.5"/>
<polyline points="349.5,350 349,420 347.8,560 347,668.7" fill="none" stroke="#5d4366" stroke-width="0.9" stroke-linejoin="round" stroke-linecap="round" opacity="0.7"/>
<polyline points="416.3,221.5 417.4,330" fill="none" stroke="#8d7593" stroke-width="1.4" stroke-linejoin="round" stroke-linecap="round" opacity="0.7"/>
<polyline points="417.4,330 417,700" fill="none" stroke="#8d7593" stroke-width="1.0" stroke-linejoin="round" stroke-linecap="round" opacity="0.3"/>
<polyline points="267.4,616.6 389,700" fill="none" stroke="#5d4366" stroke-width="1.25" stroke-linejoin="round" stroke-linecap="round" opacity="1"/>
<polyline points="479,615 453.6,653.2" fill="none" stroke="#8b8490" stroke-width="0.7" stroke-linejoin="round" stroke-linecap="round" opacity="0.45"/>
<polyline points="453.6,653.2 422.5,700" fill="none" stroke="#6d6273" stroke-width="0.8" stroke-linejoin="round" stroke-linecap="round" opacity="0.75"/>
<polyline points="512,133.5 571.3,174.8 591.7,189.6" fill="none" stroke="#5d4366" stroke-width="1.3" stroke-linejoin="round" stroke-linecap="round" opacity="1"/>
<polyline points="591.7,189.6 633.3,215.6" fill="none" stroke="#7a6382" stroke-width="1.1" stroke-linejoin="round" stroke-linecap="round" opacity="0.8"/>
<polyline points="644,57 612.5,109.2" fill="none" stroke="#8b8490" stroke-width="0.7" stroke-linejoin="round" stroke-linecap="round" opacity="0.45"/>
<polyline points="612.5,109.2 574,173" fill="none" stroke="#6d6273" stroke-width="0.8" stroke-linejoin="round" stroke-linecap="round" opacity="0.75"/>
<polyline points="692,129 667.2,167.5" fill="none" stroke="#8b8490" stroke-width="0.7" stroke-linejoin="round" stroke-linecap="round" opacity="0.45"/>
<polyline points="667.2,167.5 637,214.6" fill="none" stroke="#6d6273" stroke-width="0.8" stroke-linejoin="round" stroke-linecap="round" opacity="0.75"/>
<polyline points="571.3,175 570,350" fill="none" stroke="#7a6382" stroke-width="0.8" stroke-linejoin="round" stroke-linecap="round" opacity="0.5"/>
<polyline points="570,350 569.5,420 568,560 568.5,647.1" fill="none" stroke="#5d4366" stroke-width="0.9" stroke-linejoin="round" stroke-linecap="round" opacity="0.7"/>
<polyline points="634.6,216.5 636,340" fill="none" stroke="#8d7593" stroke-width="1.4" stroke-linejoin="round" stroke-linecap="round" opacity="0.7"/>
<polyline points="636,340 635.4,620" fill="none" stroke="#8d7593" stroke-width="1.0" stroke-linejoin="round" stroke-linecap="round" opacity="0.35"/>
<polyline points="635.4,620 635.2,700" fill="none" stroke="#5d4366" stroke-width="1.0" stroke-linejoin="round" stroke-linecap="round" opacity="0.6"/>
<polyline points="512,612.4 569.4,649.4 634.3,694.6" fill="none" stroke="#5d4366" stroke-width="1.25" stroke-linejoin="round" stroke-linecap="round" opacity="1"/>
<polyline points="692.6,599.7 668.4,634.6" fill="none" stroke="#8b8490" stroke-width="0.7" stroke-linejoin="round" stroke-linecap="round" opacity="0.45"/>
<polyline points="668.4,634.6 638.9,677.2" fill="none" stroke="#6d6273" stroke-width="0.8" stroke-linejoin="round" stroke-linecap="round" opacity="0.75"/>
<g clip-path="url(#cpA)"><g mask="url(#mA)">
<g filter="url(#lit)"><g style="isolation:isolate">
<rect x="90.19999999999999" y="105" width="100" height="590" fill="#000"/>
<use href="#k3" x="144.1" y="480.4"/>
<use href="#k2" x="97.4" y="317.0"/>
<use href="#k1" x="106.5" y="441.9"/>
<use href="#k1" x="134.9" y="119.2"/>
<use href="#k3" x="126.8" y="634.2"/>
<use href="#k3" x="103.7" y="247.1"/>
<use href="#k1" x="185.4" y="326.5"/>
<use href="#k2" x="137.0" y="372.8"/>
<use href="#k2" x="155.5" y="197.2"/>
<use href="#k1" x="124.3" y="361.3"/>
<use href="#k3" x="173.2" y="315.3"/>
<use href="#k1" x="166.3" y="558.2"/>
<use href="#k2" x="122.6" y="479.0"/>
<use href="#k1" x="185.5" y="517.9"/>
<use href="#k2" x="132.4" y="216.4"/>
<use href="#k1" x="116.2" y="648.8"/>
<use href="#k1" x="107.0" y="518.4"/>
<use href="#k3" x="94.9" y="531.2"/>
<use href="#k3" x="141.9" y="518.9"/>
<use href="#k1" x="126.7" y="617.8"/>
<use href="#k3" x="114.8" y="218.2"/>
<use href="#k3" x="146.6" y="146.8"/>
<use href="#k1" x="131.9" y="294.9"/>
<use href="#k2" x="106.1" y="129.1"/>
<use href="#k3" x="103.0" y="168.2"/>
<use href="#k1" x="153.8" y="216.3"/>
<use href="#k1" x="94.3" y="606.3"/>
<use href="#k3" x="94.6" y="644.6"/>
<use href="#k1" x="146.4" y="463.1"/>
<use href="#k3" x="132.3" y="448.9"/>
<use href="#k2" x="123.2" y="107.8"/>
<use href="#k1" x="152.2" y="276.0"/>
<use href="#k2" x="165.8" y="518.4"/>
<use href="#k1" x="163.8" y="502.4"/>
<use href="#k3" x="161.3" y="616.5"/>
<use href="#k2" x="181.8" y="635.1"/>
<use href="#k2" x="103.3" y="538.9"/>
<use href="#k2" x="184.8" y="268.5"/>
<use href="#k1" x="125.5" y="596.5"/>
<use href="#k3" x="161.9" y="443.2"/>
<use href="#k3" x="182.3" y="108.2"/>
<use href="#k1" x="171.4" y="355.9"/>
<use href="#k3" x="182.3" y="481.3"/>
<use href="#k2" x="165.3" y="247.7"/>
<use href="#k3" x="142.7" y="167.4"/>
<use href="#k2" x="175.9" y="276.6"/>
<use href="#k3" x="106.8" y="264.2"/>
<use href="#k1" x="143.5" y="188.3"/>
<use href="#k1" x="123.6" y="655.2"/>
<use href="#k1" x="144.4" y="287.2"/>
<use href="#k2" x="134.2" y="647.4"/>
<use href="#k2" x="137.0" y="179.2"/>
<use href="#k1" x="96.2" y="468.6"/>
<use href="#k2" x="145.5" y="539.8"/>
<use href="#k1" x="136.3" y="590.2"/>
<use href="#k2" x="183.4" y="459.7"/>
<use href="#k2" x="97.8" y="684.7"/>
<use href="#k3" x="123.4" y="322.3"/>
<use href="#k1" x="105.7" y="207.4"/>
<use href="#k2" x="172.3" y="176.4"/>
<use href="#k1" x="143.1" y="365.1"/>
<use href="#k1" x="115.5" y="296.7"/>
<use href="#k1" x="136.8" y="683.0"/>
<use href="#k1" x="103.1" y="423.6"/>
<use href="#k1" x="133.3" y="355.9"/>
<use href="#k1" x="143.1" y="383.0"/>
<use href="#k3" x="153.1" y="257.0"/>
<use href="#k2" x="104.4" y="148.2"/>
<use href="#k1" x="162.0" y="166.5"/>
<use href="#k2" x="94.9" y="430.8"/>
<use href="#k2" x="173.3" y="141.5"/>
<use href="#k2" x="144.7" y="500.7"/>
<use href="#k3" x="180.7" y="284.0"/>
<use href="#k2" x="155.2" y="473.2"/>
<use href="#k2" x="155.1" y="626.0"/>
<use href="#k1" x="154.9" y="452.3"/>
<use href="#k1" x="94.1" y="371.2"/>
<use href="#k3" x="173.3" y="491.6"/>
<use href="#k2" x="164.9" y="400.6"/>
<use href="#k1" x="126.7" y="501.1"/>
<use href="#k1" x="126.5" y="579.9"/>
<use href="#k3" x="93.7" y="295.1"/>
<use href="#k1" x="152.9" y="609.6"/>
<use href="#k3" x="163.9" y="209.8"/>
<use href="#k2" x="103.9" y="617.9"/>
<use href="#k2" x="115.7" y="161.3"/>
<use href="#k3" x="152.6" y="392.5"/>
<use href="#k2" x="134.2" y="314.9"/>
<use href="#k2" x="175.7" y="335.0"/>
<use href="#k2" x="113.8" y="351.8"/>
<use href="#k1" x="146.2" y="302.7"/>
<use href="#k1" x="143.9" y="654.0"/>
<use href="#k3" x="142.9" y="676.8"/>
<use href="#k1" x="105.3" y="342.9"/>
<use href="#k2" x="183.5" y="558.3"/>
<use href="#k3" x="165.0" y="226.0"/>
<use href="#k1" x="171.2" y="120.1"/>
<use href="#k3" x="95.8" y="451.9"/>
<use href="#k1" x="117.3" y="176.4"/>
<use href="#k2" x="162.2" y="420.4"/>
<use href="#k3" x="152.0" y="293.4"/>
<use href="#k3" x="93.5" y="568.3"/>
<use href="#k3" x="133.1" y="548.7"/>
<use href="#k2" x="114.9" y="568.6"/>
<use href="#k3" x="172.3" y="547.5"/>
<use href="#k3" x="161.7" y="637.1"/>
<use href="#k1" x="94.9" y="492.4"/>
<use href="#k2" x="181.2" y="148.6"/>
<use href="#k1" x="133.8" y="667.9"/>
<use href="#k2" x="106.0" y="189.2"/>
<use href="#k2" x="143.5" y="343.2"/>
<use href="#k1" x="161.9" y="148.9"/>
<use href="#k1" x="123.9" y="556.4"/>
<use href="#k3" x="136.2" y="468.5"/>
<use href="#k3" x="146.2" y="442.2"/>
<use href="#k2" x="136.1" y="392.4"/>
<use href="#k2" x="122.6" y="246.3"/>
<use href="#k2" x="105.1" y="462.6"/>
<use href="#k3" x="97.9" y="414.7"/>
<use href="#k2" x="152.1" y="336.2"/>
<use href="#k3" x="182.7" y="363.7"/>
<use href="#k2" x="171.0" y="646.7"/>
<use href="#k3" x="115.1" y="141.2"/>
<use href="#k2" x="184.2" y="248.9"/>
<use href="#k1" x="154.6" y="120.2"/>
<use href="#k1" x="133.4" y="412.0"/>
<use href="#k2" x="104.1" y="480.6"/>
<use href="#k3" x="123.9" y="674.3"/>
<use href="#k2" x="133.0" y="336.6"/>
<use href="#k1" x="164.4" y="383.2"/>
<use href="#k3" x="115.6" y="370.9"/>
<use href="#k3" x="156.4" y="412.8"/>
<use href="#k3" x="94.3" y="158.2"/>
<use href="#k3" x="115.0" y="313.4"/>
<use href="#k1" x="151.8" y="666.8"/>
<use href="#k1" x="165.5" y="322.6"/>
<use href="#k2" x="152.4" y="492.7"/>
<use href="#k3" x="115.8" y="432.9"/>
<use href="#k3" x="123.5" y="306.4"/>
<use href="#k3" x="181.2" y="302.7"/>
<use href="#k1" x="116.4" y="586.3"/>
<use href="#k1" x="172.5" y="684.1"/>
<use href="#k3" x="102.8" y="676.8"/>
<use href="#k3" x="102.8" y="380.5"/>
<use href="#k2" x="132.6" y="508.9"/>
<use href="#k2" x="162.4" y="285.9"/>
<use href="#k3" x="155.1" y="685.7"/>
<use href="#k3" x="131.9" y="490.0"/>
<use href="#k2" x="125.0" y="130.1"/>
<use href="#k1" x="97.9" y="625.8"/>
<use href="#k1" x="116.3" y="256.1"/>
<use href="#k2" x="162.5" y="576.7"/>
<use href="#k3" x="143.6" y="421.9"/>
<use href="#k1" x="97.0" y="236.6"/>
<use href="#k2" x="182.3" y="419.6"/>
<use href="#k3" x="162.6" y="186.2"/>
<use href="#k2" x="125.1" y="151.0"/>
<use href="#k2" x="155.8" y="373.0"/>
<use href="#k2" x="145.0" y="577.6"/>
<use href="#k1" x="172.9" y="429.4"/>
<use href="#k1" x="104.5" y="560.1"/>
<use href="#k1" x="184.7" y="579.8"/>
<use href="#k3" x="175.1" y="451.7"/>
<use href="#k1" x="183.1" y="615.6"/>
<use href="#k2" x="124.4" y="341.5"/>
<use href="#k2" x="182.0" y="381.3"/>
<use href="#k2" x="164.9" y="657.8"/>
<use href="#k2" x="112.6" y="121.6"/>
<use href="#k2" x="114.2" y="449.2"/>
<use href="#k2" x="171.0" y="507.2"/>
<use href="#k1" x="95.1" y="257.0"/>
<use href="#k1" x="162.7" y="480.9"/>
<use href="#k1" x="175.9" y="587.7"/>
<use href="#k2" x="105.2" y="502.0"/>
<use href="#k3" x="125.7" y="441.5"/>
<use href="#k1" x="105.0" y="302.5"/>
<use href="#k1" x="153.3" y="569.5"/>
<use href="#k3" x="143.5" y="107.7"/>
<use href="#k3" x="125.5" y="458.7"/>
<use href="#k2" x="172.0" y="624.3"/>
<use href="#k3" x="184.5" y="653.6"/>
<use href="#k2" x="184.2" y="599.3"/>
<use href="#k1" x="161.5" y="598.9"/>
<use href="#k3" x="141.7" y="209.4"/>
<use href="#k1" x="161.6" y="129.9"/>
<use href="#k2" x="142.6" y="635.1"/>
<use href="#k3" x="131.9" y="278.2"/>
<use href="#k3" x="106.0" y="287.1"/>
<use href="#k3" x="124.6" y="541.1"/>
<use href="#k2" x="175.3" y="219.8"/>
<use href="#k1" x="95.1" y="277.7"/>
<use href="#k2" x="113.7" y="409.7"/>
<use href="#k3" x="161.1" y="462.5"/>
<use href="#k1" x="146.7" y="404.3"/>
<use href="#k3" x="93.0" y="665.3"/>
<use href="#k2" x="132.2" y="160.0"/>
<use href="#k3" x="166.0" y="538.5"/>
<use href="#k3" x="181.4" y="442.7"/>
<use href="#k2" x="117.4" y="490.0"/>
<use href="#k3" x="95.6" y="588.7"/>
<use href="#k3" x="104.8" y="400.2"/>
<use href="#k3" x="152.6" y="528.0"/>
<use href="#k3" x="175.5" y="199.2"/>
<use href="#k1" x="164.1" y="364.5"/>
<use href="#k2" x="133.5" y="530.7"/>
<use href="#k1" x="95.2" y="139.8"/>
<use href="#k2" x="116.7" y="624.5"/>
<use href="#k1" x="94.5" y="391.3"/>
<use href="#k2" x="122.5" y="403.8"/>
<use href="#k1" x="133.8" y="567.4"/>
<use href="#k1" x="143.5" y="129.7"/>
<use href="#k2" x="182.4" y="170.8"/>
<use href="#k1" x="103.4" y="635.9"/>
<use href="#k3" x="175.2" y="256.1"/>
<use href="#k1" x="182.2" y="131.1"/>
<use href="#k2" x="112.9" y="686.4"/>
<use href="#k1" x="104.2" y="322.5"/>
<use href="#k3" x="132.9" y="628.3"/>
<use href="#k2" x="93.2" y="548.8"/>
<use href="#k1" x="96.8" y="511.5"/>
<use href="#k3" x="162.1" y="343.1"/>
<use href="#k1" x="161.4" y="111.7"/>
<use href="#k3" x="156.3" y="158.6"/>
<use href="#k3" x="95.0" y="120.0"/>
<use href="#k3" x="117.0" y="332.5"/>
<use href="#k1" x="184.6" y="673.1"/>
<use href="#k1" x="173.9" y="158.5"/>
<use href="#k3" x="154.9" y="509.3"/>
<use href="#k2" x="151.6" y="644.0"/>
<use href="#k3" x="93.0" y="219.6"/>
<use href="#k1" x="105.9" y="365.1"/>
<use href="#k2" x="97.3" y="354.7"/>
<use href="#k2" x="103.3" y="577.6"/>
<use href="#k3" x="106.6" y="227.2"/>
<use href="#k2" x="105.5" y="657.3"/>
<use href="#k3" x="152.9" y="140.8"/>
<use href="#k2" x="122.2" y="266.5"/>
<use href="#k1" x="112.7" y="195.5"/>
<use href="#k3" x="115.2" y="394.8"/>
<use href="#k1" x="144.4" y="557.2"/>
<use href="#k3" x="156.4" y="547.5"/>
<use href="#k1" x="146.6" y="245.8"/>
<use href="#k1" x="93.6" y="179.1"/>
<use href="#k1" x="182.5" y="228.0"/>
<use href="#k2" x="112.4" y="607.4"/>
<use href="#k2" x="133.9" y="197.7"/>
<use href="#k2" x="124.8" y="229.1"/>
<use href="#k3" x="143.6" y="323.5"/>
<use href="#k1" x="180.9" y="204.9"/>
<use href="#k3" x="155.5" y="238.4"/>
<use href="#k3" x="113.8" y="468.4"/>
<use href="#k1" x="172.6" y="235.3"/>
<use href="#k3" x="173.0" y="297.4"/>
<use href="#k2" x="172.7" y="667.4"/>
<use href="#k2" x="173.7" y="391.1"/>
<use href="#k2" x="123.5" y="384.6"/>
<use href="#k3" x="133.9" y="605.8"/>
<use href="#k3" x="182.4" y="404.2"/>
<use href="#k2" x="146.1" y="228.0"/>
<use href="#k1" x="163.5" y="677.1"/>
<use href="#k2" x="114.0" y="667.0"/>
<use href="#k2" x="122.5" y="521.7"/>
<use href="#k1" x="114.2" y="234.3"/>
<use href="#k2" x="97.2" y="332.5"/>
<use href="#k1" x="112.9" y="277.0"/>
<use href="#k1" x="114.4" y="547.0"/>
<use href="#k1" x="174.5" y="605.2"/>
<use href="#k1" x="175.2" y="528.1"/>
<use href="#k3" x="95.1" y="195.7"/>
<use href="#k2" x="154.5" y="313.2"/>
<use href="#k3" x="125.7" y="188.1"/>
<use href="#k2" x="174.0" y="371.8"/>
<use href="#k2" x="155.8" y="177.1"/>
<use href="#k2" x="124.1" y="208.2"/>
<use href="#k3" x="116.9" y="530.9"/>
<use href="#k1" x="145.4" y="264.3"/>
<use href="#k1" x="152.9" y="432.4"/>
<use href="#k3" x="153.4" y="590.0"/>
<use href="#k2" x="135.9" y="137.1"/>
<use href="#k2" x="123.4" y="167.9"/>
<use href="#k2" x="113.0" y="508.9"/>
<use href="#k2" x="156.4" y="351.7"/>
<use href="#k1" x="163.5" y="267.3"/>
<use href="#k3" x="181.0" y="497.9"/>
<use href="#k1" x="163.8" y="305.3"/>
<use href="#k2" x="143.2" y="614.5"/>
<use href="#k2" x="183.1" y="188.5"/>
<use href="#k1" x="172.1" y="472.1"/>
<use href="#k2" x="175.5" y="569.5"/>
<use href="#k1" x="125.5" y="420.7"/>
<use href="#k1" x="134.9" y="431.9"/>
<use href="#k2" x="185.8" y="343.5"/>
<use href="#k3" x="132.5" y="255.7"/>
<use href="#k3" x="175.2" y="414.2"/>
<use href="#k2" x="103.0" y="107.9"/>
<use href="#k2" x="126.8" y="284.7"/>
<use href="#k2" x="105.9" y="597.6"/>
<use href="#k2" x="136.0" y="235.2"/>
<use href="#k1" x="145.7" y="596.1"/>
<use href="#k1" x="183.5" y="540.1"/>
<use href="#kd" x="147.0" y="145.5"/>
<use href="#kc" x="146.0" y="132.0"/>
<use href="#kb" x="141.8" y="121.5"/>
<use href="#kb" x="149.2" y="121.5"/>
<use href="#kd" x="147.0" y="187.6"/>
<use href="#kc" x="146.0" y="174.1"/>
<use href="#kb" x="141.8" y="163.6"/>
<use href="#kb" x="149.2" y="163.6"/>
<use href="#kd" x="147.0" y="229.7"/>
<use href="#kc" x="146.0" y="216.2"/>
<use href="#kb" x="141.8" y="205.7"/>
<use href="#kb" x="149.2" y="205.7"/>
<use href="#kd" x="147.0" y="271.8"/>
<use href="#kc" x="146.0" y="258.3"/>
<use href="#kb" x="141.8" y="247.8"/>
<use href="#kb" x="149.2" y="247.8"/>
<use href="#kd" x="147.0" y="313.9"/>
<use href="#kc" x="146.0" y="300.4"/>
<use href="#kb" x="141.8" y="289.9"/>
<use href="#kb" x="149.2" y="289.9"/>
<use href="#kd" x="147.0" y="356.0"/>
<use href="#kc" x="146.0" y="342.5"/>
<use href="#kb" x="141.8" y="332.0"/>
<use href="#kb" x="149.2" y="332.0"/>
<use href="#kd" x="147.0" y="398.1"/>
<use href="#kc" x="146.0" y="384.6"/>
<use href="#kb" x="141.8" y="374.1"/>
<use href="#kb" x="149.2" y="374.1"/>
<use href="#kd" x="147.0" y="440.2"/>
<use href="#kc" x="146.0" y="426.7"/>
<use href="#kb" x="141.8" y="416.2"/>
<use href="#kb" x="149.2" y="416.2"/>
<use href="#kd" x="147.0" y="482.3"/>
<use href="#kc" x="146.0" y="468.8"/>
<use href="#kb" x="141.8" y="458.3"/>
<use href="#kb" x="149.2" y="458.3"/>
<use href="#kd" x="147.0" y="524.4"/>
<use href="#kc" x="146.0" y="510.9"/>
<use href="#kb" x="141.8" y="500.4"/>
<use href="#kb" x="149.2" y="500.4"/>
<use href="#kd" x="147.0" y="566.5"/>
<use href="#kc" x="146.0" y="553.0"/>
<use href="#kb" x="141.8" y="542.5"/>
<use href="#kb" x="149.2" y="542.5"/>
<use href="#kd" x="147.0" y="608.6"/>
<use href="#kc" x="146.0" y="595.1"/>
<use href="#kb" x="141.8" y="584.6"/>
<use href="#kb" x="149.2" y="584.6"/>
<use href="#kd" x="147.0" y="650.7"/>
<use href="#kc" x="146.0" y="637.2"/>
<use href="#kb" x="141.8" y="626.7"/>
<use href="#kb" x="149.2" y="626.7"/>
</g></g>
<g fill="#fff" filter="url(#s1)">
<circle cx="143.8" cy="129.4" r="1.1" opacity="0.5"/>
<circle cx="140.2" cy="119.3" r="1.5" opacity="0.95"/>
<circle cx="147.6" cy="119.3" r="1.5" opacity="0.95"/>
<circle cx="143.8" cy="171.5" r="1.1" opacity="0.5"/>
<circle cx="140.2" cy="161.4" r="1.5" opacity="0.95"/>
<circle cx="147.6" cy="161.4" r="1.5" opacity="0.95"/>
<circle cx="143.8" cy="213.6" r="1.1" opacity="0.5"/>
<circle cx="140.2" cy="203.5" r="1.5" opacity="0.95"/>
<circle cx="147.6" cy="203.5" r="1.5" opacity="0.95"/>
<circle cx="143.8" cy="255.7" r="1.1" opacity="0.5"/>
<circle cx="140.2" cy="245.6" r="1.5" opacity="0.95"/>
<circle cx="147.6" cy="245.6" r="1.5" opacity="0.95"/>
<circle cx="143.8" cy="297.8" r="1.1" opacity="0.5"/>
<circle cx="140.2" cy="287.7" r="1.5" opacity="0.95"/>
<circle cx="147.6" cy="287.7" r="1.5" opacity="0.95"/>
<circle cx="143.8" cy="339.9" r="1.1" opacity="0.5"/>
<circle cx="140.2" cy="329.8" r="1.5" opacity="0.95"/>
<circle cx="147.6" cy="329.8" r="1.5" opacity="0.95"/>
<circle cx="143.8" cy="382.0" r="1.1" opacity="0.5"/>
<circle cx="140.2" cy="371.9" r="1.5" opacity="0.95"/>
<circle cx="147.6" cy="371.9" r="1.5" opacity="0.95"/>
<circle cx="143.8" cy="424.1" r="1.1" opacity="0.5"/>
<circle cx="140.2" cy="414.0" r="1.5" opacity="0.95"/>
<circle cx="147.6" cy="414.0" r="1.5" opacity="0.95"/>
<circle cx="143.8" cy="466.2" r="1.1" opacity="0.5"/>
<circle cx="140.2" cy="456.1" r="1.5" opacity="0.95"/>
<circle cx="147.6" cy="456.1" r="1.5" opacity="0.95"/>
<circle cx="143.8" cy="508.3" r="1.1" opacity="0.5"/>
<circle cx="140.2" cy="498.2" r="1.5" opacity="0.95"/>
<circle cx="147.6" cy="498.2" r="1.5" opacity="0.95"/>
<circle cx="143.8" cy="550.4" r="1.1" opacity="0.5"/>
<circle cx="140.2" cy="540.3" r="1.5" opacity="0.95"/>
<circle cx="147.6" cy="540.3" r="1.5" opacity="0.95"/>
<circle cx="143.8" cy="592.5" r="1.1" opacity="0.5"/>
<circle cx="140.2" cy="582.4" r="1.5" opacity="0.95"/>
<circle cx="147.6" cy="582.4" r="1.5" opacity="0.95"/>
<circle cx="143.8" cy="634.6" r="1.1" opacity="0.5"/>
<circle cx="140.2" cy="624.5" r="1.5" opacity="0.95"/>
<circle cx="147.6" cy="624.5" r="1.5" opacity="0.95"/>
</g>
</g></g>
<g clip-path="url(#cpB)"><g mask="url(#mB)">
<g filter="url(#lit)"><g style="isolation:isolate">
<rect x="331.1" y="165" width="100" height="544" fill="#000"/>
<use href="#k3" x="384.5" y="287.4"/>
<use href="#k2" x="338.9" y="455.1"/>
<use href="#k2" x="394.1" y="474.1"/>
<use href="#k3" x="358.0" y="279.8"/>
<use href="#k1" x="402.0" y="206.6"/>
<use href="#k3" x="346.6" y="228.9"/>
<use href="#k1" x="337.9" y="667.0"/>
<use href="#k2" x="354.6" y="414.8"/>
<use href="#k2" x="364.3" y="189.7"/>
<use href="#k2" x="413.7" y="257.4"/>
<use href="#k2" x="416.9" y="552.2"/>
<use href="#k1" x="385.8" y="463.6"/>
<use href="#k2" x="335.6" y="489.9"/>
<use href="#k3" x="383.6" y="304.1"/>
<use href="#k2" x="357.3" y="646.4"/>
<use href="#k3" x="424.6" y="695.7"/>
<use href="#k2" x="357.0" y="315.6"/>
<use href="#k3" x="423.4" y="540.4"/>
<use href="#k3" x="384.8" y="540.1"/>
<use href="#k1" x="394.0" y="197.1"/>
<use href="#k1" x="345.5" y="423.4"/>
<use href="#k1" x="424.3" y="676.2"/>
<use href="#k1" x="363.6" y="601.4"/>
<use href="#k3" x="411.9" y="531.3"/>
<use href="#k1" x="406.9" y="304.5"/>
<use href="#k1" x="367.7" y="422.6"/>
<use href="#k1" x="405.1" y="383.7"/>
<use href="#k3" x="405.1" y="403.5"/>
<use href="#k2" x="376.1" y="413.5"/>
<use href="#k3" x="345.9" y="461.4"/>
<use href="#k1" x="345.0" y="304.4"/>
<use href="#k2" x="336.4" y="434.0"/>
<use href="#k1" x="364.0" y="577.1"/>
<use href="#k1" x="406.2" y="347.8"/>
<use href="#k1" x="395.3" y="650.2"/>
<use href="#k2" x="348.2" y="169.8"/>
<use href="#k2" x="405.3" y="248.8"/>
<use href="#k2" x="353.9" y="218.1"/>
<use href="#k3" x="385.2" y="445.2"/>
<use href="#k1" x="425.9" y="326.6"/>
<use href="#k3" x="374.0" y="279.4"/>
<use href="#k2" x="415.1" y="473.7"/>
<use href="#k2" x="424.0" y="639.4"/>
<use href="#k1" x="373.9" y="255.7"/>
<use href="#k1" x="346.9" y="366.3"/>
<use href="#k3" x="425.6" y="499.8"/>
<use href="#k3" x="338.0" y="375.4"/>
<use href="#k2" x="356.9" y="337.4"/>
<use href="#k2" x="337.8" y="316.8"/>
<use href="#k2" x="422.3" y="383.2"/>
<use href="#k2" x="366.6" y="619.1"/>
<use href="#k3" x="374.1" y="451.3"/>
<use href="#k2" x="374.2" y="396.3"/>
<use href="#k3" x="426.1" y="304.2"/>
<use href="#k1" x="385.2" y="424.3"/>
<use href="#k3" x="356.6" y="255.8"/>
<use href="#k3" x="363.3" y="326.3"/>
<use href="#k3" x="405.1" y="366.0"/>
<use href="#k2" x="426.0" y="518.4"/>
<use href="#k1" x="353.9" y="552.7"/>
<use href="#k2" x="396.9" y="356.5"/>
<use href="#k2" x="338.7" y="626.5"/>
<use href="#k2" x="355.6" y="431.7"/>
<use href="#k3" x="337.8" y="547.9"/>
<use href="#k2" x="346.3" y="657.7"/>
<use href="#k1" x="376.5" y="628.1"/>
<use href="#k1" x="355.3" y="455.1"/>
<use href="#k3" x="337.9" y="471.5"/>
<use href="#k3" x="406.9" y="639.5"/>
<use href="#k2" x="372.8" y="335.7"/>
<use href="#k2" x="355.3" y="180.5"/>
<use href="#k2" x="335.3" y="609.0"/>
<use href="#k3" x="415.9" y="665.7"/>
<use href="#k1" x="396.0" y="435.6"/>
<use href="#k2" x="375.2" y="511.5"/>
<use href="#k3" x="336.8" y="338.1"/>
<use href="#k3" x="348.2" y="560.6"/>
<use href="#k2" x="411.8" y="452.3"/>
<use href="#k3" x="368.2" y="382.8"/>
<use href="#k1" x="357.2" y="567.7"/>
<use href="#k1" x="374.6" y="318.5"/>
<use href="#k2" x="402.3" y="191.4"/>
<use href="#k3" x="425.6" y="188.3"/>
<use href="#k2" x="426.3" y="580.3"/>
<use href="#k3" x="356.8" y="589.7"/>
<use href="#k3" x="403.5" y="655.6"/>
<use href="#k3" x="375.4" y="431.2"/>
<use href="#k1" x="368.1" y="442.2"/>
<use href="#k2" x="387.1" y="677.1"/>
<use href="#k2" x="364.8" y="463.2"/>
<use href="#k1" x="393.6" y="509.9"/>
<use href="#k1" x="411.9" y="433.5"/>
<use href="#k3" x="335.0" y="509.5"/>
<use href="#k2" x="344.6" y="597.0"/>
<use href="#k1" x="387.6" y="266.4"/>
<use href="#k1" x="415.2" y="509.3"/>
<use href="#k1" x="395.3" y="412.3"/>
<use href="#k2" x="393.3" y="489.5"/>
<use href="#k1" x="365.7" y="211.1"/>
<use href="#k3" x="383.3" y="660.0"/>
<use href="#k3" x="345.7" y="698.8"/>
<use href="#k1" x="423.0" y="171.6"/>
<use href="#k3" x="354.2" y="373.7"/>
<use href="#k3" x="344.5" y="675.3"/>
<use href="#k3" x="374.7" y="648.7"/>
<use href="#k1" x="395.4" y="570.7"/>
<use href="#k1" x="344.1" y="287.6"/>
<use href="#k2" x="365.7" y="366.9"/>
<use href="#k2" x="383.3" y="481.0"/>
<use href="#k2" x="382.8" y="169.2"/>
<use href="#k2" x="424.2" y="442.5"/>
<use href="#k2" x="354.8" y="199.3"/>
<use href="#k3" x="353.4" y="531.9"/>
<use href="#k2" x="336.2" y="684.6"/>
<use href="#k2" x="395.3" y="372.8"/>
<use href="#k2" x="423.9" y="620.7"/>
<use href="#k3" x="426.3" y="211.1"/>
<use href="#k2" x="355.7" y="509.4"/>
<use href="#k1" x="363.4" y="267.5"/>
<use href="#k2" x="376.4" y="473.2"/>
<use href="#k1" x="396.1" y="533.3"/>
<use href="#k1" x="357.7" y="609.9"/>
<use href="#k3" x="347.9" y="404.9"/>
<use href="#k2" x="353.4" y="393.7"/>
<use href="#k2" x="366.1" y="695.0"/>
<use href="#k2" x="363.3" y="230.2"/>
<use href="#k2" x="412.8" y="275.5"/>
<use href="#k3" x="384.7" y="596.4"/>
<use href="#k3" x="405.5" y="268.5"/>
<use href="#k3" x="424.4" y="559.5"/>
<use href="#k1" x="425.2" y="228.2"/>
<use href="#k3" x="363.5" y="307.8"/>
<use href="#k2" x="357.7" y="490.1"/>
<use href="#k3" x="344.9" y="266.1"/>
<use href="#k2" x="405.2" y="479.8"/>
<use href="#k1" x="411.8" y="609.9"/>
<use href="#k1" x="338.3" y="569.3"/>
<use href="#k3" x="412.5" y="570.7"/>
<use href="#k1" x="397.3" y="551.1"/>
<use href="#k1" x="393.7" y="392.2"/>
<use href="#k3" x="396.3" y="588.8"/>
<use href="#k3" x="373.9" y="219.2"/>
<use href="#k3" x="416.3" y="415.2"/>
<use href="#k3" x="374.7" y="610.0"/>
<use href="#k2" x="374.0" y="688.9"/>
<use href="#k1" x="412.6" y="333.2"/>
<use href="#k2" x="415.9" y="317.0"/>
<use href="#k3" x="395.5" y="453.7"/>
<use href="#k3" x="334.8" y="299.1"/>
<use href="#k1" x="395.3" y="180.4"/>
<use href="#k1" x="333.8" y="238.5"/>
<use href="#k1" x="367.7" y="285.2"/>
<use href="#k2" x="414.2" y="375.7"/>
<use href="#k3" x="376.1" y="375.8"/>
<use href="#k2" x="353.5" y="298.6"/>
<use href="#k1" x="354.1" y="240.4"/>
<use href="#k1" x="414.3" y="589.4"/>
<use href="#k3" x="368.1" y="639.1"/>
<use href="#k3" x="382.6" y="616.0"/>
<use href="#k3" x="387.2" y="501.8"/>
<use href="#k2" x="416.1" y="648.3"/>
<use href="#k2" x="338.9" y="589.1"/>
<use href="#k1" x="375.4" y="530.7"/>
<use href="#k2" x="348.0" y="323.9"/>
<use href="#k2" x="406.5" y="577.6"/>
<use href="#k3" x="367.0" y="345.4"/>
<use href="#k2" x="344.6" y="499.3"/>
<use href="#k1" x="334.6" y="216.2"/>
<use href="#k3" x="383.8" y="405.8"/>
<use href="#k2" x="366.6" y="659.7"/>
<use href="#k2" x="382.7" y="561.7"/>
<use href="#k1" x="393.7" y="337.1"/>
<use href="#k2" x="415.9" y="395.5"/>
<use href="#k2" x="384.0" y="520.8"/>
<use href="#k2" x="423.1" y="481.9"/>
<use href="#k1" x="414.4" y="181.9"/>
<use href="#k3" x="354.8" y="354.9"/>
<use href="#k1" x="346.0" y="209.6"/>
<use href="#k1" x="422.9" y="655.7"/>
<use href="#k1" x="416.6" y="239.5"/>
<use href="#k2" x="374.5" y="549.3"/>
<use href="#k3" x="356.8" y="472.2"/>
<use href="#k2" x="387.7" y="698.4"/>
<use href="#k2" x="354.0" y="629.8"/>
<use href="#k3" x="384.2" y="636.9"/>
<use href="#k3" x="392.6" y="627.6"/>
<use href="#k2" x="338.6" y="260.1"/>
<use href="#k1" x="365.2" y="523.4"/>
<use href="#k3" x="337.4" y="394.3"/>
<use href="#k2" x="363.8" y="172.1"/>
<use href="#k2" x="385.4" y="578.2"/>
<use href="#k1" x="393.1" y="235.7"/>
<use href="#k1" x="354.3" y="666.0"/>
<use href="#k3" x="373.0" y="570.4"/>
<use href="#k3" x="363.3" y="248.7"/>
<use href="#k1" x="377.4" y="352.8"/>
<use href="#k2" x="424.4" y="596.8"/>
<use href="#k1" x="394.6" y="610.0"/>
<use href="#k2" x="405.3" y="230.4"/>
<use href="#k3" x="336.4" y="354.6"/>
<use href="#k2" x="403.2" y="677.4"/>
<use href="#k2" x="413.6" y="354.7"/>
<use href="#k3" x="386.5" y="325.2"/>
<use href="#k2" x="423.0" y="401.5"/>
<use href="#k2" x="413.3" y="687.2"/>
<use href="#k1" x="374.1" y="489.7"/>
<use href="#k1" x="403.1" y="597.2"/>
<use href="#k3" x="384.2" y="382.9"/>
<use href="#k2" x="406.2" y="463.2"/>
<use href="#k1" x="422.6" y="460.6"/>
<use href="#k1" x="393.9" y="315.9"/>
<use href="#k2" x="404.9" y="542.6"/>
<use href="#k1" x="405.2" y="694.4"/>
<use href="#k3" x="425.2" y="266.3"/>
<use href="#k1" x="405.6" y="171.1"/>
<use href="#k3" x="355.2" y="684.7"/>
<use href="#k3" x="406.1" y="323.6"/>
<use href="#k1" x="375.5" y="237.8"/>
<use href="#k2" x="411.9" y="216.2"/>
<use href="#k1" x="394.3" y="686.8"/>
<use href="#k2" x="366.0" y="405.3"/>
<use href="#k3" x="347.8" y="540.0"/>
<use href="#k1" x="415.0" y="489.2"/>
<use href="#k1" x="365.6" y="675.4"/>
<use href="#k3" x="404.4" y="521.3"/>
<use href="#k3" x="397.1" y="665.9"/>
<use href="#k1" x="402.3" y="559.0"/>
<use href="#k3" x="392.4" y="294.9"/>
<use href="#k1" x="385.4" y="189.9"/>
<use href="#k1" x="345.7" y="580.2"/>
<use href="#k1" x="374.4" y="177.3"/>
<use href="#k2" x="403.1" y="444.0"/>
<use href="#k1" x="406.8" y="616.2"/>
<use href="#k2" x="416.9" y="199.7"/>
<use href="#k2" x="422.9" y="347.8"/>
<use href="#k1" x="413.5" y="294.9"/>
<use href="#k1" x="337.3" y="181.8"/>
<use href="#k1" x="347.6" y="249.1"/>
<use href="#k3" x="393.2" y="276.7"/>
<use href="#k3" x="344.4" y="520.3"/>
<use href="#k3" x="421.5" y="284.5"/>
<use href="#k2" x="346.4" y="343.4"/>
<use href="#k3" x="422.2" y="246.4"/>
<use href="#k1" x="377.5" y="589.0"/>
<use href="#k1" x="344.0" y="383.9"/>
<use href="#k3" x="373.0" y="666.7"/>
<use href="#k3" x="422.7" y="364.8"/>
<use href="#k3" x="335.0" y="413.2"/>
<use href="#k3" x="405.2" y="503.0"/>
<use href="#k3" x="416.7" y="630.0"/>
<use href="#k1" x="345.2" y="638.6"/>
<use href="#k2" x="384.0" y="209.7"/>
<use href="#k2" x="347.6" y="480.1"/>
<use href="#k3" x="336.2" y="279.0"/>
<use href="#k1" x="344.8" y="442.4"/>
<use href="#k2" x="363.3" y="483.7"/>
<use href="#k2" x="404.5" y="421.0"/>
<use href="#k1" x="392.7" y="258.6"/>
<use href="#k1" x="403.2" y="289.0"/>
<use href="#k3" x="366.2" y="560.8"/>
<use href="#k1" x="384.6" y="227.3"/>
<use href="#k2" x="335.2" y="645.2"/>
<use href="#k1" x="345.1" y="619.7"/>
<use href="#k3" x="334.4" y="528.6"/>
<use href="#k1" x="373.7" y="200.5"/>
<use href="#k3" x="393.8" y="218.9"/>
<use href="#k2" x="347.3" y="188.8"/>
<use href="#k2" x="386.7" y="246.3"/>
<use href="#k2" x="363.3" y="539.4"/>
<use href="#k3" x="385.1" y="343.5"/>
<use href="#k2" x="385.9" y="364.2"/>
<use href="#k3" x="367.4" y="499.9"/>
<use href="#k3" x="337.1" y="201.8"/>
<use href="#k2" x="424.8" y="422.2"/>
<use href="#k3" x="376.0" y="297.8"/>
<use href="#kd" x="387.0" y="207.7"/>
<use href="#kc" x="386.0" y="194.2"/>
<use href="#kb" x="381.8" y="183.7"/>
<use href="#kb" x="389.2" y="183.7"/>
<use href="#kd" x="387.0" y="248.0"/>
<use href="#kc" x="386.0" y="234.5"/>
<use href="#kb" x="381.8" y="224.0"/>
<use href="#kb" x="389.2" y="224.0"/>
<use href="#kd" x="387.0" y="288.3"/>
<use href="#kc" x="386.0" y="274.8"/>
<use href="#kb" x="381.8" y="264.3"/>
<use href="#kb" x="389.2" y="264.3"/>
<use href="#kd" x="387.0" y="328.6"/>
<use href="#kc" x="386.0" y="315.1"/>
<use href="#kb" x="381.8" y="304.6"/>
<use href="#kb" x="389.2" y="304.6"/>
<use href="#kd" x="387.0" y="368.9"/>
<use href="#kc" x="386.0" y="355.4"/>
<use href="#kb" x="381.8" y="344.9"/>
<use href="#kb" x="389.2" y="344.9"/>
<use href="#kd" x="387.0" y="409.2"/>
<use href="#kc" x="386.0" y="395.7"/>
<use href="#kb" x="381.8" y="385.2"/>
<use href="#kb" x="389.2" y="385.2"/>
<use href="#kd" x="387.0" y="449.5"/>
<use href="#kc" x="386.0" y="436.0"/>
<use href="#kb" x="381.8" y="425.5"/>
<use href="#kb" x="389.2" y="425.5"/>
<use href="#kd" x="387.0" y="489.8"/>
<use href="#kc" x="386.0" y="476.3"/>
<use href="#kb" x="381.8" y="465.8"/>
<use href="#kb" x="389.2" y="465.8"/>
<use href="#kd" x="387.0" y="530.1"/>
<use href="#kc" x="386.0" y="516.6"/>
<use href="#kb" x="381.8" y="506.1"/>
<use href="#kb" x="389.2" y="506.1"/>
<use href="#kd" x="387.0" y="570.4"/>
<use href="#kc" x="386.0" y="556.9"/>
<use href="#kb" x="381.8" y="546.4"/>
<use href="#kb" x="389.2" y="546.4"/>
<use href="#kd" x="387.0" y="610.7"/>
<use href="#kc" x="386.0" y="597.2"/>
<use href="#kb" x="381.8" y="586.7"/>
<use href="#kb" x="389.2" y="586.7"/>
<use href="#kd" x="387.0" y="651.0"/>
<use href="#kc" x="386.0" y="637.5"/>
<use href="#kb" x="381.8" y="627.0"/>
<use href="#kb" x="389.2" y="627.0"/>
<use href="#kd" x="387.0" y="691.3"/>
<use href="#kc" x="386.0" y="677.8"/>
<use href="#kb" x="381.8" y="667.3"/>
<use href="#kb" x="389.2" y="667.3"/>
<use href="#kd" x="387.0" y="731.6"/>
<use href="#kc" x="386.0" y="718.1"/>
<use href="#kb" x="381.8" y="707.6"/>
<use href="#kb" x="389.2" y="707.6"/>
</g></g>
<g fill="#fff" filter="url(#s1)">
<circle cx="383.8" cy="191.6" r="1.1" opacity="0.5"/>
<circle cx="380.2" cy="181.5" r="1.5" opacity="0.95"/>
<circle cx="387.6" cy="181.5" r="1.5" opacity="0.95"/>
<circle cx="383.8" cy="231.9" r="1.1" opacity="0.5"/>
<circle cx="380.2" cy="221.8" r="1.5" opacity="0.95"/>
<circle cx="387.6" cy="221.8" r="1.5" opacity="0.95"/>
<circle cx="383.8" cy="272.2" r="1.1" opacity="0.5"/>
<circle cx="380.2" cy="262.1" r="1.5" opacity="0.95"/>
<circle cx="387.6" cy="262.1" r="1.5" opacity="0.95"/>
<circle cx="383.8" cy="312.5" r="1.1" opacity="0.5"/>
<circle cx="380.2" cy="302.4" r="1.5" opacity="0.95"/>
<circle cx="387.6" cy="302.4" r="1.5" opacity="0.95"/>
<circle cx="383.8" cy="352.8" r="1.1" opacity="0.5"/>
<circle cx="380.2" cy="342.7" r="1.5" opacity="0.95"/>
<circle cx="387.6" cy="342.7" r="1.5" opacity="0.95"/>
<circle cx="383.8" cy="393.1" r="1.1" opacity="0.5"/>
<circle cx="380.2" cy="383.0" r="1.5" opacity="0.95"/>
<circle cx="387.6" cy="383.0" r="1.5" opacity="0.95"/>
<circle cx="383.8" cy="433.4" r="1.1" opacity="0.5"/>
<circle cx="380.2" cy="423.3" r="1.5" opacity="0.95"/>
<circle cx="387.6" cy="423.3" r="1.5" opacity="0.95"/>
<circle cx="383.8" cy="473.7" r="1.1" opacity="0.5"/>
<circle cx="380.2" cy="463.6" r="1.5" opacity="0.95"/>
<circle cx="387.6" cy="463.6" r="1.5" opacity="0.95"/>
<circle cx="383.8" cy="514.0" r="1.1" opacity="0.5"/>
<circle cx="380.2" cy="503.9" r="1.5" opacity="0.95"/>
<circle cx="387.6" cy="503.9" r="1.5" opacity="0.95"/>
<circle cx="383.8" cy="554.3" r="1.1" opacity="0.5"/>
<circle cx="380.2" cy="544.2" r="1.5" opacity="0.95"/>
<circle cx="387.6" cy="544.2" r="1.5" opacity="0.95"/>
<circle cx="383.8" cy="594.6" r="1.1" opacity="0.5"/>
<circle cx="380.2" cy="584.5" r="1.5" opacity="0.95"/>
<circle cx="387.6" cy="584.5" r="1.5" opacity="0.95"/>
<circle cx="383.8" cy="634.9" r="1.1" opacity="0.5"/>
<circle cx="380.2" cy="624.8" r="1.5" opacity="0.95"/>
<circle cx="387.6" cy="624.8" r="1.5" opacity="0.95"/>
<circle cx="383.8" cy="675.2" r="1.1" opacity="0.5"/>
<circle cx="380.2" cy="665.1" r="1.5" opacity="0.95"/>
<circle cx="387.6" cy="665.1" r="1.5" opacity="0.95"/>
<circle cx="383.8" cy="715.5" r="1.1" opacity="0.5"/>
<circle cx="380.2" cy="705.4" r="1.5" opacity="0.95"/>
<circle cx="387.6" cy="705.4" r="1.5" opacity="0.95"/>
</g>
</g></g>
<g clip-path="url(#cpC)"><g mask="url(#mC)">
<g filter="url(#lit)"><g style="isolation:isolate">
<rect x="550.0" y="180" width="100" height="529" fill="#000"/>
<use href="#k3" x="623.7" y="324.1"/>
<use href="#k1" x="603.2" y="478.2"/>
<use href="#k3" x="565.2" y="438.0"/>
<use href="#k1" x="566.8" y="577.2"/>
<use href="#k3" x="623.6" y="302.5"/>
<use href="#k3" x="566.4" y="514.1"/>
<use href="#k3" x="554.8" y="429.4"/>
<use href="#k2" x="642.0" y="401.6"/>
<use href="#k3" x="602.2" y="555.2"/>
<use href="#k2" x="603.1" y="381.1"/>
<use href="#k1" x="614.1" y="369.8"/>
<use href="#k2" x="613.2" y="387.4"/>
<use href="#k2" x="564.8" y="185.4"/>
<use href="#k2" x="576.5" y="543.7"/>
<use href="#k2" x="644.7" y="690.0"/>
<use href="#k2" x="632.6" y="310.4"/>
<use href="#k1" x="572.7" y="233.0"/>
<use href="#k2" x="557.1" y="293.3"/>
<use href="#k1" x="623.7" y="241.7"/>
<use href="#k2" x="557.1" y="605.7"/>
<use href="#k2" x="631.2" y="585.9"/>
<use href="#k3" x="557.5" y="272.3"/>
<use href="#k2" x="592.5" y="548.2"/>
<use href="#k2" x="642.0" y="321.7"/>
<use href="#k3" x="606.5" y="397.3"/>
<use href="#k3" x="645.2" y="497.9"/>
<use href="#k1" x="621.8" y="340.1"/>
<use href="#k3" x="642.2" y="283.4"/>
<use href="#k3" x="595.5" y="487.5"/>
<use href="#k3" x="614.6" y="642.6"/>
<use href="#k1" x="632.5" y="622.2"/>
<use href="#k2" x="566.6" y="206.6"/>
<use href="#k3" x="593.5" y="274.1"/>
<use href="#k2" x="643.8" y="421.4"/>
<use href="#k1" x="621.3" y="576.3"/>
<use href="#k2" x="603.4" y="418.8"/>
<use href="#k2" x="582.1" y="224.7"/>
<use href="#k3" x="575.9" y="601.7"/>
<use href="#k3" x="562.7" y="260.5"/>
<use href="#k3" x="553.1" y="625.4"/>
<use href="#k2" x="614.1" y="563.2"/>
<use href="#k3" x="585.6" y="206.3"/>
<use href="#k2" x="614.7" y="446.1"/>
<use href="#k3" x="611.8" y="291.7"/>
<use href="#k1" x="612.8" y="313.5"/>
<use href="#k3" x="572.7" y="351.1"/>
<use href="#k2" x="634.3" y="426.6"/>
<use href="#k2" x="566.1" y="674.9"/>
<use href="#k1" x="596.6" y="642.5"/>
<use href="#k3" x="553.9" y="251.8"/>
<use href="#k1" x="611.7" y="231.8"/>
<use href="#k3" x="631.9" y="701.0"/>
<use href="#k2" x="574.1" y="585.0"/>
<use href="#k1" x="565.9" y="321.3"/>
<use href="#k3" x="584.3" y="653.2"/>
<use href="#k2" x="585.0" y="438.2"/>
<use href="#k2" x="623.8" y="633.1"/>
<use href="#k2" x="585.3" y="339.9"/>
<use href="#k2" x="603.9" y="634.3"/>
<use href="#k3" x="553.3" y="234.2"/>
<use href="#k1" x="575.1" y="642.7"/>
<use href="#k1" x="635.3" y="370.3"/>
<use href="#k2" x="624.5" y="476.2"/>
<use href="#k1" x="615.0" y="583.8"/>
<use href="#k2" x="603.1" y="262.1"/>
<use href="#k3" x="583.8" y="577.4"/>
<use href="#k1" x="595.0" y="584.0"/>
<use href="#k3" x="583.3" y="283.2"/>
<use href="#k3" x="614.0" y="430.2"/>
<use href="#k1" x="562.5" y="420.6"/>
<use href="#k2" x="605.4" y="576.8"/>
<use href="#k2" x="633.9" y="543.8"/>
<use href="#k3" x="611.5" y="662.4"/>
<use href="#k3" x="624.3" y="651.4"/>
<use href="#k1" x="634.2" y="331.4"/>
<use href="#k2" x="575.6" y="448.6"/>
<use href="#k3" x="631.0" y="388.1"/>
<use href="#k1" x="585.6" y="182.6"/>
<use href="#k1" x="621.0" y="262.2"/>
<use href="#k2" x="625.7" y="597.1"/>
<use href="#k1" x="576.8" y="314.1"/>
<use href="#k1" x="594.0" y="430.5"/>
<use href="#k3" x="605.0" y="534.1"/>
<use href="#k3" x="641.8" y="186.8"/>
<use href="#k3" x="592.9" y="213.8"/>
<use href="#k3" x="604.3" y="457.3"/>
<use href="#k1" x="572.7" y="703.3"/>
<use href="#k2" x="557.5" y="194.2"/>
<use href="#k1" x="643.5" y="205.0"/>
<use href="#k3" x="562.9" y="382.1"/>
<use href="#k3" x="613.3" y="331.3"/>
<use href="#k1" x="621.9" y="460.0"/>
<use href="#k3" x="566.6" y="690.0"/>
<use href="#k2" x="585.4" y="358.9"/>
<use href="#k1" x="572.4" y="388.4"/>
<use href="#k1" x="564.0" y="456.6"/>
<use href="#k2" x="583.7" y="691.2"/>
<use href="#k1" x="583.1" y="671.8"/>
<use href="#k3" x="613.5" y="703.5"/>
<use href="#k1" x="585.1" y="494.6"/>
<use href="#k3" x="622.0" y="440.4"/>
<use href="#k3" x="614.0" y="528.7"/>
<use href="#k2" x="592.4" y="294.1"/>
<use href="#k3" x="622.1" y="534.7"/>
<use href="#k1" x="614.0" y="193.3"/>
<use href="#k2" x="593.9" y="236.1"/>
<use href="#k1" x="583.9" y="400.6"/>
<use href="#k1" x="593.7" y="508.0"/>
<use href="#k3" x="645.1" y="241.3"/>
<use href="#k2" x="643.9" y="634.1"/>
<use href="#k1" x="565.5" y="595.2"/>
<use href="#k2" x="625.9" y="225.4"/>
<use href="#k3" x="592.4" y="370.3"/>
<use href="#k1" x="603.7" y="184.2"/>
<use href="#k3" x="631.1" y="566.4"/>
<use href="#k2" x="604.1" y="245.5"/>
<use href="#k1" x="640.7" y="554.4"/>
<use href="#k1" x="643.8" y="573.7"/>
<use href="#k1" x="604.7" y="225.6"/>
<use href="#k1" x="633.2" y="410.8"/>
<use href="#k3" x="633.6" y="664.6"/>
<use href="#k1" x="566.2" y="478.6"/>
<use href="#k2" x="594.7" y="392.1"/>
<use href="#k2" x="563.1" y="536.3"/>
<use href="#k2" x="574.2" y="408.5"/>
<use href="#k2" x="622.5" y="400.0"/>
<use href="#k2" x="573.6" y="504.6"/>
<use href="#k2" x="644.0" y="535.9"/>
<use href="#k1" x="621.5" y="554.5"/>
<use href="#k1" x="596.1" y="604.1"/>
<use href="#k2" x="573.0" y="683.5"/>
<use href="#k3" x="552.7" y="449.3"/>
<use href="#k2" x="631.0" y="274.7"/>
<use href="#k2" x="643.9" y="222.6"/>
<use href="#k3" x="573.3" y="275.1"/>
<use href="#k3" x="556.0" y="565.9"/>
<use href="#k3" x="555.0" y="505.9"/>
<use href="#k3" x="564.0" y="300.2"/>
<use href="#k2" x="577.2" y="331.2"/>
<use href="#k3" x="583.7" y="535.0"/>
<use href="#k3" x="605.0" y="516.1"/>
<use href="#k3" x="553.4" y="704.0"/>
<use href="#k3" x="562.4" y="615.6"/>
<use href="#k3" x="644.2" y="518.2"/>
<use href="#k3" x="624.3" y="381.0"/>
<use href="#k3" x="602.7" y="652.9"/>
<use href="#k3" x="615.9" y="506.3"/>
<use href="#k2" x="611.6" y="407.5"/>
<use href="#k2" x="584.1" y="595.7"/>
<use href="#k2" x="601.9" y="284.4"/>
<use href="#k2" x="562.9" y="243.7"/>
<use href="#k2" x="632.2" y="683.3"/>
<use href="#k2" x="565.9" y="494.6"/>
<use href="#k1" x="643.2" y="674.9"/>
<use href="#k1" x="623.8" y="673.9"/>
<use href="#k3" x="566.4" y="360.8"/>
<use href="#k1" x="583.8" y="553.8"/>
<use href="#k3" x="640.6" y="594.8"/>
<use href="#k1" x="605.7" y="341.1"/>
<use href="#k2" x="612.2" y="352.8"/>
<use href="#k3" x="635.1" y="211.9"/>
<use href="#k1" x="553.8" y="645.7"/>
<use href="#k3" x="583.3" y="377.6"/>
<use href="#k2" x="641.3" y="459.8"/>
<use href="#k2" x="556.0" y="348.4"/>
<use href="#k2" x="603.1" y="303.5"/>
<use href="#k3" x="563.0" y="653.1"/>
<use href="#k3" x="641.5" y="440.8"/>
<use href="#k3" x="605.2" y="689.6"/>
<use href="#k3" x="592.6" y="351.4"/>
<use href="#k2" x="623.6" y="692.1"/>
<use href="#k1" x="556.8" y="683.5"/>
<use href="#k1" x="573.8" y="564.5"/>
<use href="#k2" x="644.2" y="300.9"/>
<use href="#k2" x="605.7" y="322.7"/>
<use href="#k1" x="601.7" y="611.4"/>
<use href="#k3" x="633.5" y="236.0"/>
<use href="#k1" x="553.7" y="525.3"/>
<use href="#k1" x="552.7" y="545.7"/>
<use href="#k3" x="602.9" y="494.6"/>
<use href="#k1" x="552.9" y="392.0"/>
<use href="#k3" x="624.1" y="281.3"/>
<use href="#k3" x="567.2" y="224.6"/>
<use href="#k3" x="585.8" y="456.4"/>
<use href="#k1" x="574.2" y="197.1"/>
<use href="#k1" x="573.0" y="525.5"/>
<use href="#k3" x="633.8" y="253.6"/>
<use href="#k2" x="556.2" y="468.6"/>
<use href="#k3" x="586.4" y="633.7"/>
<use href="#k3" x="613.2" y="469.9"/>
<use href="#k2" x="634.9" y="467.2"/>
<use href="#k2" x="624.5" y="357.9"/>
<use href="#k2" x="596.6" y="310.2"/>
<use href="#k2" x="593.9" y="703.3"/>
<use href="#k2" x="594.6" y="684.4"/>
<use href="#k3" x="596.6" y="565.2"/>
<use href="#k1" x="572.7" y="368.2"/>
<use href="#k2" x="552.9" y="312.1"/>
<use href="#k2" x="613.2" y="253.5"/>
<use href="#k3" x="624.2" y="516.5"/>
<use href="#k2" x="623.6" y="613.6"/>
<use href="#k3" x="594.0" y="253.5"/>
<use href="#k3" x="622.7" y="494.4"/>
<use href="#k2" x="614.0" y="623.8"/>
<use href="#k2" x="632.8" y="487.8"/>
<use href="#k2" x="592.6" y="411.7"/>
<use href="#k3" x="583.9" y="301.0"/>
<use href="#k1" x="631.2" y="192.8"/>
<use href="#k2" x="643.3" y="651.0"/>
<use href="#k2" x="606.1" y="596.8"/>
<use href="#k3" x="583.1" y="416.6"/>
<use href="#k2" x="577.0" y="466.1"/>
<use href="#k3" x="633.9" y="350.9"/>
<use href="#k3" x="623.9" y="185.1"/>
<use href="#k1" x="642.2" y="341.2"/>
<use href="#k3" x="640.5" y="357.9"/>
<use href="#k2" x="557.6" y="370.2"/>
<use href="#k1" x="641.1" y="611.8"/>
<use href="#k1" x="596.2" y="469.6"/>
<use href="#k3" x="562.5" y="631.9"/>
<use href="#k2" x="555.4" y="408.7"/>
<use href="#k3" x="615.1" y="544.0"/>
<use href="#k1" x="634.5" y="644.2"/>
<use href="#k2" x="603.3" y="673.1"/>
<use href="#k2" x="583.4" y="265.5"/>
<use href="#k1" x="567.2" y="280.6"/>
<use href="#k2" x="623.0" y="206.8"/>
<use href="#k2" x="555.6" y="488.4"/>
<use href="#k3" x="645.1" y="475.0"/>
<use href="#k3" x="584.9" y="242.3"/>
<use href="#k3" x="577.2" y="626.2"/>
<use href="#k3" x="556.6" y="333.3"/>
<use href="#k3" x="630.7" y="293.6"/>
<use href="#k1" x="631.8" y="450.2"/>
<use href="#k2" x="566.7" y="343.5"/>
<use href="#k1" x="603.5" y="358.4"/>
<use href="#k3" x="553.0" y="213.9"/>
<use href="#k2" x="602.1" y="439.6"/>
<use href="#k2" x="612.2" y="486.2"/>
<use href="#k2" x="586.6" y="612.3"/>
<use href="#k2" x="576.7" y="292.8"/>
<use href="#k3" x="575.4" y="665.1"/>
<use href="#k3" x="564.6" y="399.0"/>
<use href="#k1" x="614.5" y="603.7"/>
<use href="#k1" x="592.9" y="525.0"/>
<use href="#k2" x="643.2" y="265.4"/>
<use href="#k1" x="625.2" y="418.2"/>
<use href="#k2" x="634.2" y="602.5"/>
<use href="#k1" x="643.6" y="381.6"/>
<use href="#k3" x="583.4" y="476.3"/>
<use href="#k2" x="586.3" y="517.9"/>
<use href="#k3" x="631.7" y="508.9"/>
<use href="#k1" x="557.0" y="583.5"/>
<use href="#k1" x="575.5" y="485.6"/>
<use href="#k2" x="614.6" y="272.8"/>
<use href="#k1" x="574.6" y="254.9"/>
<use href="#k1" x="572.2" y="212.2"/>
<use href="#k2" x="611.9" y="215.2"/>
<use href="#k1" x="594.5" y="663.9"/>
<use href="#k1" x="615.9" y="680.1"/>
<use href="#k2" x="553.2" y="664.5"/>
<use href="#k1" x="594.6" y="331.6"/>
<use href="#k1" x="634.9" y="526.6"/>
<use href="#k2" x="603.2" y="203.1"/>
<use href="#k3" x="592.4" y="195.1"/>
<use href="#k1" x="596.7" y="625.9"/>
<use href="#k1" x="595.5" y="449.6"/>
<use href="#k3" x="573.0" y="428.0"/>
<use href="#k3" x="583.9" y="320.8"/>
<use href="#k2" x="562.6" y="555.3"/>
<use href="#kd" x="608.0" y="202.9"/>
<use href="#kc" x="607.0" y="189.4"/>
<use href="#kb" x="602.8" y="178.9"/>
<use href="#kb" x="610.2" y="178.9"/>
<use href="#kd" x="608.0" y="242.5"/>
<use href="#kc" x="607.0" y="229.0"/>
<use href="#kb" x="602.8" y="218.5"/>
<use href="#kb" x="610.2" y="218.5"/>
<use href="#kd" x="608.0" y="282.1"/>
<use href="#kc" x="607.0" y="268.6"/>
<use href="#kb" x="602.8" y="258.1"/>
<use href="#kb" x="610.2" y="258.1"/>
<use href="#kd" x="608.0" y="321.7"/>
<use href="#kc" x="607.0" y="308.2"/>
<use href="#kb" x="602.8" y="297.7"/>
<use href="#kb" x="610.2" y="297.7"/>
<use href="#kd" x="608.0" y="361.3"/>
<use href="#kc" x="607.0" y="347.8"/>
<use href="#kb" x="602.8" y="337.3"/>
<use href="#kb" x="610.2" y="337.3"/>
<use href="#kd" x="608.0" y="400.9"/>
<use href="#kc" x="607.0" y="387.4"/>
<use href="#kb" x="602.8" y="376.9"/>
<use href="#kb" x="610.2" y="376.9"/>
<use href="#kd" x="608.0" y="440.5"/>
<use href="#kc" x="607.0" y="427.0"/>
<use href="#kb" x="602.8" y="416.5"/>
<use href="#kb" x="610.2" y="416.5"/>
<use href="#kd" x="608.0" y="480.1"/>
<use href="#kc" x="607.0" y="466.6"/>
<use href="#kb" x="602.8" y="456.1"/>
<use href="#kb" x="610.2" y="456.1"/>
<use href="#kd" x="608.0" y="519.7"/>
<use href="#kc" x="607.0" y="506.2"/>
<use href="#kb" x="602.8" y="495.7"/>
<use href="#kb" x="610.2" y="495.7"/>
<use href="#kd" x="608.0" y="559.3"/>
<use href="#kc" x="607.0" y="545.8"/>
<use href="#kb" x="602.8" y="535.3"/>
<use href="#kb" x="610.2" y="535.3"/>
<use href="#kd" x="608.0" y="598.9"/>
<use href="#kc" x="607.0" y="585.4"/>
<use href="#kb" x="602.8" y="574.9"/>
<use href="#kb" x="610.2" y="574.9"/>
<use href="#kd" x="608.0" y="638.5"/>
<use href="#kc" x="607.0" y="625.0"/>
<use href="#kb" x="602.8" y="614.5"/>
<use href="#kb" x="610.2" y="614.5"/>
<use href="#kd" x="608.0" y="678.1"/>
<use href="#kc" x="607.0" y="664.6"/>
<use href="#kb" x="602.8" y="654.1"/>
<use href="#kb" x="610.2" y="654.1"/>
</g></g>
<g fill="#fff" filter="url(#s1)">
<circle cx="604.8" cy="186.8" r="1.1" opacity="0.5"/>
<circle cx="601.2" cy="176.7" r="1.5" opacity="0.95"/>
<circle cx="608.6" cy="176.7" r="1.5" opacity="0.95"/>
<circle cx="604.8" cy="226.4" r="1.1" opacity="0.5"/>
<circle cx="601.2" cy="216.3" r="1.5" opacity="0.95"/>
<circle cx="608.6" cy="216.3" r="1.5" opacity="0.95"/>
<circle cx="604.8" cy="266.0" r="1.1" opacity="0.5"/>
<circle cx="601.2" cy="255.9" r="1.5" opacity="0.95"/>
<circle cx="608.6" cy="255.9" r="1.5" opacity="0.95"/>
<circle cx="604.8" cy="305.6" r="1.1" opacity="0.5"/>
<circle cx="601.2" cy="295.5" r="1.5" opacity="0.95"/>
<circle cx="608.6" cy="295.5" r="1.5" opacity="0.95"/>
<circle cx="604.8" cy="345.2" r="1.1" opacity="0.5"/>
<circle cx="601.2" cy="335.1" r="1.5" opacity="0.95"/>
<circle cx="608.6" cy="335.1" r="1.5" opacity="0.95"/>
<circle cx="604.8" cy="384.8" r="1.1" opacity="0.5"/>
<circle cx="601.2" cy="374.7" r="1.5" opacity="0.95"/>
<circle cx="608.6" cy="374.7" r="1.5" opacity="0.95"/>
<circle cx="604.8" cy="424.4" r="1.1" opacity="0.5"/>
<circle cx="601.2" cy="414.3" r="1.5" opacity="0.95"/>
<circle cx="608.6" cy="414.3" r="1.5" opacity="0.95"/>
<circle cx="604.8" cy="464.0" r="1.1" opacity="0.5"/>
<circle cx="601.2" cy="453.9" r="1.5" opacity="0.95"/>
<circle cx="608.6" cy="453.9" r="1.5" opacity="0.95"/>
<circle cx="604.8" cy="503.6" r="1.1" opacity="0.5"/>
<circle cx="601.2" cy="493.5" r="1.5" opacity="0.95"/>
<circle cx="608.6" cy="493.5" r="1.5" opacity="0.95"/>
<circle cx="604.8" cy="543.2" r="1.1" opacity="0.5"/>
<circle cx="601.2" cy="533.1" r="1.5" opacity="0.95"/>
<circle cx="608.6" cy="533.1" r="1.5" opacity="0.95"/>
<circle cx="604.8" cy="582.8" r="1.1" opacity="0.5"/>
<circle cx="601.2" cy="572.7" r="1.5" opacity="0.95"/>
<circle cx="608.6" cy="572.7" r="1.5" opacity="0.95"/>
<circle cx="604.8" cy="622.4" r="1.1" opacity="0.5"/>
<circle cx="601.2" cy="612.3" r="1.5" opacity="0.95"/>
<circle cx="608.6" cy="612.3" r="1.5" opacity="0.95"/>
<circle cx="604.8" cy="662.0" r="1.1" opacity="0.5"/>
<circle cx="601.2" cy="651.9" r="1.5" opacity="0.95"/>
<circle cx="608.6" cy="651.9" r="1.5" opacity="0.95"/>
</g>
</g></g>
<circle cx="235.2" cy="52" r="21.6" fill="#a9b8d2" filter="url(#bb)"/>
<g filter="url(#s1)">
<g clip-path="url(#ballc)">
<circle cx="235.2" cy="52" r="21.2" fill="url(#gl)"/>
<ellipse cx="229" cy="42" rx="14" ry="7" fill="#7186aa" opacity="0.55" filter="url(#bb)"/>
<path d="M213 49 L250 54 L248 62 Q240 74 228 76 L212 70 Z" fill="#7e93b7" opacity="0.9" filter="url(#bb)"/>
<path d="M228 73 Q240 62 249.5 54.5 L251 64 Q244 74 232 75 Z" fill="#62769b" opacity="0.85" filter="url(#bb)"/>
<path d="M249.6 54.5 L258 55 L258 66 L250 66 Q248 60 249.6 54.5 Z" fill="#b4c2d9" opacity="0.9" filter="url(#bb)"/>
<path d="M214.3 49.6 Q232 51.2 249.6 54.2" stroke="#465a7d" stroke-width="1.3" fill="none" opacity="0.9"/>
<path d="M215 51.2 Q224 51.6 232 53" stroke="#c8d4e8" stroke-width="1" fill="none" opacity="0.8"/>
<circle cx="241.3" cy="50.3" r="1.5" fill="#c9d5ea" opacity="0.9"/>
<circle cx="238.8" cy="66.5" r="1.4" fill="#b6c5df" opacity="0.9"/>
</g></g>
<text x="64.6" y="60.6" font-size="24" textLength="109.4" lengthAdjust="spacingAndGlyphs" class="b">Legend:</text>
<text x="267" y="60.6" font-size="24" textLength="16.1" lengthAdjust="spacingAndGlyphs" class="b">=</text>
<text x="295.2" y="60.6" font-size="24" textLength="62.0" lengthAdjust="spacingAndGlyphs" class="b">Area</text>
<text x="369.3" y="60.6" font-size="24" textLength="27.7" lengthAdjust="spacingAndGlyphs" class="b">of</text>
<text x="405.7" y="60.6" font-size="24" textLength="106.4" lengthAdjust="spacingAndGlyphs" class="b">silicone</text>
<polygon fill="#000" points="183.1,221.9 183.1,225.6 172.4,229.9 183.1,234.2 183.1,237.9 166.4,231.3 166.4,228.5"/>
<text x="196.2" y="237.9" font-size="24" textLength="145.3" lengthAdjust="spacingAndGlyphs" class="b">Example A</text>
<text x="200.7" y="266.9" font-size="24" textLength="81.2" lengthAdjust="spacingAndGlyphs" class="b">GOOD</text>
<polygon fill="#000" points="415.2,248.9 415.2,252.6 404.5,256.9 415.2,261.2 415.2,264.9 398.5,258.3 398.5,255.5"/>
<text x="428.6" y="264.9" font-size="24" textLength="143.7" lengthAdjust="spacingAndGlyphs" class="b">Example B</text>
<text x="433.4" y="293.9" font-size="24" textLength="66.0" lengthAdjust="spacingAndGlyphs" class="b">FAIR</text>
<polygon fill="#000" points="649.0,252.0 649.0,255.7 638.3,260.0 649.0,264.3 649.0,268.0 632.3,261.4 632.3,258.6"/>
<text x="662.2" y="268" font-size="24" textLength="142.8" lengthAdjust="spacingAndGlyphs" class="b">Example C</text>
<text x="667.2" y="297.1" font-size="24" textLength="152.8" lengthAdjust="spacingAndGlyphs" class="b">POOR/BAD</text>
<text x="165.6" y="325" font-size="24" textLength="171.1" lengthAdjust="spacingAndGlyphs" class="r">Most of space</text>
<text x="165.6" y="353" font-size="24" textLength="190.0" lengthAdjust="spacingAndGlyphs" class="r">between plates</text>
<text x="165.6" y="381" font-size="24" textLength="163.0" lengthAdjust="spacingAndGlyphs" class="r">with silicone,</text>
<text x="165.6" y="410.2" font-size="24" textLength="176.4" lengthAdjust="spacingAndGlyphs" class="r">added silicone</text>
<text x="165.6" y="439" font-size="24" textLength="139.4" lengthAdjust="spacingAndGlyphs" class="r">inside adds</text>
<text x="165.6" y="468" font-size="24" textLength="176.4" lengthAdjust="spacingAndGlyphs" class="r">more strength</text>
<text x="165.6" y="496" font-size="24" textLength="214.0" lengthAdjust="spacingAndGlyphs" class="r">&amp; leak protection</text>
<text x="406.3" y="351.4" font-size="24" textLength="164.3" lengthAdjust="spacingAndGlyphs" class="r">Many gaps in</text>
<text x="406.3" y="379.9" font-size="24" textLength="223.7" lengthAdjust="spacingAndGlyphs" class="r">silicone coverage,</text>
<text x="406.3" y="408.3" font-size="24" textLength="184.9" lengthAdjust="spacingAndGlyphs" class="r">tank should be</text>
<text x="406.3" y="437.1" font-size="24" textLength="184.2" lengthAdjust="spacingAndGlyphs" class="r">re-sealed soon</text>
<text x="406.3" y="466.3" font-size="24" textLength="179.7" lengthAdjust="spacingAndGlyphs" class="r">Added silicone</text>
<text x="406.3" y="494.8" font-size="24" textLength="210.9" lengthAdjust="spacingAndGlyphs" class="r">inside seam may</text>
<text x="406.3" y="523.2" font-size="24" textLength="154.3" lengthAdjust="spacingAndGlyphs" class="r">help &amp; delay</text>
<text x="406.3" y="552" font-size="24" textLength="72.0" lengthAdjust="spacingAndGlyphs" class="r">repair</text>
<text x="649.5" y="354.2" font-size="24" textLength="190.9" lengthAdjust="spacingAndGlyphs" class="r">More than 40%</text>
<text x="649.5" y="383.1" font-size="24" textLength="103.0" lengthAdjust="spacingAndGlyphs" class="r">of space</text>
<text x="649.5" y="411.4" font-size="24" textLength="177.7" lengthAdjust="spacingAndGlyphs" class="r">between glass</text>
<text x="649.5" y="440.3" font-size="24" textLength="199.5" lengthAdjust="spacingAndGlyphs" class="r">plate joint with-</text>
<text x="649.5" y="468.8" font-size="24" textLength="150.1" lengthAdjust="spacingAndGlyphs" class="r">out silicone.</text>
<text x="649.5" y="497.7" font-size="24" textLength="154.8" lengthAdjust="spacingAndGlyphs" class="r">Tear down &amp;</text>
<text x="649.5" y="526" font-size="24" textLength="198.8" lengthAdjust="spacingAndGlyphs" class="r">repair promptly.</text>
</svg></body></html>
